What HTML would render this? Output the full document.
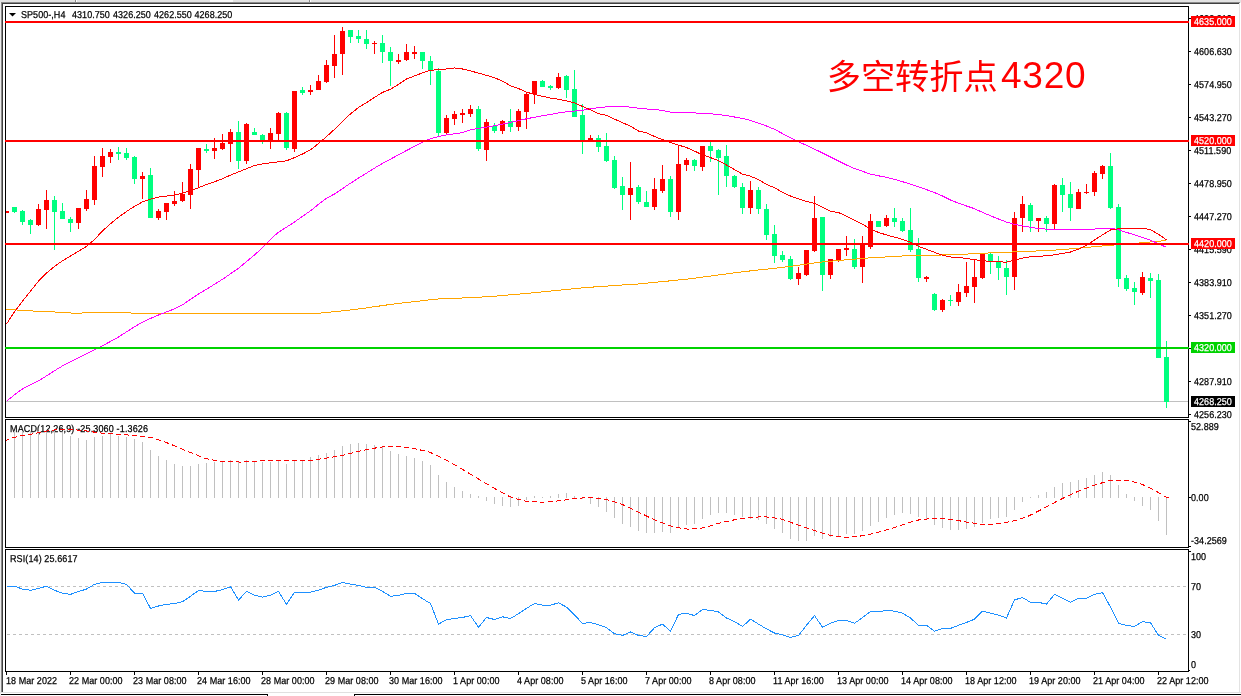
<!DOCTYPE html>
<html><head><meta charset="utf-8"><title>SP500 H4</title>
<style>html,body{margin:0;padding:0;background:#fff;}body{width:1241px;height:696px;overflow:hidden;}svg{display:block;}
text{font-family:"Liberation Sans",Arial,sans-serif;}</style></head>
<body>
<svg width="1241" height="696" viewBox="0 0 1241 696" shape-rendering="crispEdges">
<style>.t{font-family:"Liberation Sans",Arial,sans-serif;will-change:transform;letter-spacing:0.05px;text-rendering:geometricPrecision;}</style>
<rect x="0" y="0" width="1241" height="696" fill="#ffffff"/>
<rect x="0" y="0" width="1241" height="2" fill="#e3e3e3"/>
<rect x="0" y="2" width="1240" height="1" fill="#8a8a8a"/>
<rect x="1240" y="2" width="1" height="1" fill="#ececec"/>
<rect x="2" y="3" width="1237" height="1" fill="#404040"/>
<rect x="75" y="0" width="1" height="2" fill="#8a8a8a"/>
<rect x="76" y="0" width="1" height="2" fill="#ffffff"/>
<rect x="309" y="0" width="1" height="2" fill="#8a8a8a"/>
<rect x="310" y="0" width="1" height="2" fill="#ffffff"/>
<rect x="210" y="0" width="23" height="2" fill="#fafafa"/>
<rect x="0" y="2" width="1" height="694" fill="#ececec"/>
<rect x="1" y="3" width="1" height="689" fill="#8a8a8a"/>
<rect x="2" y="3" width="1" height="689" fill="#404040"/>
<rect x="1239" y="3" width="1" height="689" fill="#e3e3e3"/>
<rect x="0" y="692" width="1241" height="1" fill="#e0e0e0"/>
<rect x="1" y="694" width="267" height="1" fill="#000"/>
<rect x="354" y="694" width="887" height="1" fill="#000"/>
<rect x="267" y="694" width="1" height="2" fill="#000"/>
<rect x="354" y="694" width="1" height="2" fill="#000"/>
<defs><clipPath id="cm"><rect x="6" y="7" width="1182" height="410"/></clipPath><clipPath id="cd"><rect x="6" y="420" width="1182" height="127"/></clipPath><clipPath id="cr"><rect x="6" y="550" width="1182" height="121"/></clipPath></defs>
<g clip-path="url(#cm)">
<rect x="6" y="401" width="1182" height="1" fill="#c0c0c0"/>
<rect x="6" y="211" width="1" height="2" fill="#ff0000"/>
<rect x="4" y="211" width="5" height="2" fill="#ff0000"/>
<rect x="14" y="207" width="1" height="6" fill="#00ff7f"/>
<rect x="12" y="207" width="5" height="5" fill="#00ff7f"/>
<rect x="22" y="210" width="1" height="15" fill="#00ff7f"/>
<rect x="20" y="211" width="5" height="11" fill="#00ff7f"/>
<rect x="30" y="219" width="1" height="15" fill="#00ff7f"/>
<rect x="28" y="220" width="5" height="5" fill="#00ff7f"/>
<rect x="38" y="204" width="1" height="22" fill="#ff0000"/>
<rect x="36" y="209" width="5" height="16" fill="#ff0000"/>
<rect x="46" y="190" width="1" height="39" fill="#ff0000"/>
<rect x="44" y="200" width="5" height="10" fill="#ff0000"/>
<rect x="54" y="196" width="1" height="54" fill="#00ff7f"/>
<rect x="52" y="200" width="5" height="12" fill="#00ff7f"/>
<rect x="62" y="203" width="1" height="16" fill="#00ff7f"/>
<rect x="60" y="211" width="5" height="8" fill="#00ff7f"/>
<rect x="70" y="217" width="1" height="15" fill="#00ff7f"/>
<rect x="68" y="219" width="5" height="4" fill="#00ff7f"/>
<rect x="78" y="208" width="1" height="21" fill="#ff0000"/>
<rect x="76" y="208" width="5" height="15" fill="#ff0000"/>
<rect x="86" y="190" width="1" height="21" fill="#ff0000"/>
<rect x="84" y="199" width="5" height="10" fill="#ff0000"/>
<rect x="94" y="156" width="1" height="49" fill="#ff0000"/>
<rect x="92" y="166" width="5" height="34" fill="#ff0000"/>
<rect x="102" y="148" width="1" height="29" fill="#ff0000"/>
<rect x="100" y="156" width="5" height="11" fill="#ff0000"/>
<rect x="110" y="149" width="1" height="14" fill="#ff0000"/>
<rect x="108" y="152" width="5" height="5" fill="#ff0000"/>
<rect x="118" y="147" width="1" height="13" fill="#00ff7f"/>
<rect x="116" y="152" width="5" height="2" fill="#00ff7f"/>
<rect x="126" y="148" width="1" height="12" fill="#00ff7f"/>
<rect x="124" y="153" width="5" height="5" fill="#00ff7f"/>
<rect x="134" y="156" width="1" height="28" fill="#00ff7f"/>
<rect x="132" y="157" width="5" height="22" fill="#00ff7f"/>
<rect x="142" y="172" width="1" height="27" fill="#ff0000"/>
<rect x="140" y="176" width="5" height="3" fill="#ff0000"/>
<rect x="150" y="168" width="1" height="50" fill="#00ff7f"/>
<rect x="148" y="175" width="5" height="43" fill="#00ff7f"/>
<rect x="158" y="209" width="1" height="11" fill="#ff0000"/>
<rect x="156" y="211" width="5" height="7" fill="#ff0000"/>
<rect x="166" y="203" width="1" height="17" fill="#ff0000"/>
<rect x="164" y="203" width="5" height="9" fill="#ff0000"/>
<rect x="174" y="191" width="1" height="15" fill="#ff0000"/>
<rect x="172" y="201" width="5" height="3" fill="#ff0000"/>
<rect x="182" y="182" width="1" height="20" fill="#ff0000"/>
<rect x="180" y="194" width="5" height="7" fill="#ff0000"/>
<rect x="190" y="164" width="1" height="45" fill="#ff0000"/>
<rect x="188" y="169" width="5" height="26" fill="#ff0000"/>
<rect x="198" y="148" width="1" height="40" fill="#ff0000"/>
<rect x="196" y="148" width="5" height="22" fill="#ff0000"/>
<rect x="206" y="144" width="1" height="9" fill="#00ff7f"/>
<rect x="204" y="149" width="5" height="2" fill="#00ff7f"/>
<rect x="214" y="138" width="1" height="21" fill="#ff0000"/>
<rect x="212" y="148" width="5" height="3" fill="#ff0000"/>
<rect x="222" y="134" width="1" height="16" fill="#ff0000"/>
<rect x="220" y="143" width="5" height="6" fill="#ff0000"/>
<rect x="230" y="129" width="1" height="33" fill="#ff0000"/>
<rect x="228" y="132" width="5" height="12" fill="#ff0000"/>
<rect x="238" y="121" width="1" height="48" fill="#00ff7f"/>
<rect x="236" y="132" width="5" height="29" fill="#00ff7f"/>
<rect x="246" y="123" width="1" height="41" fill="#ff0000"/>
<rect x="244" y="124" width="5" height="37" fill="#ff0000"/>
<rect x="254" y="128" width="1" height="7" fill="#00ff7f"/>
<rect x="252" y="132" width="5" height="3" fill="#00ff7f"/>
<rect x="262" y="134" width="1" height="10" fill="#00ff7f"/>
<rect x="260" y="135" width="5" height="6" fill="#00ff7f"/>
<rect x="270" y="128" width="1" height="21" fill="#ff0000"/>
<rect x="268" y="133" width="5" height="9" fill="#ff0000"/>
<rect x="278" y="112" width="1" height="29" fill="#ff0000"/>
<rect x="276" y="113" width="5" height="21" fill="#ff0000"/>
<rect x="286" y="112" width="1" height="38" fill="#00ff7f"/>
<rect x="284" y="113" width="5" height="35" fill="#00ff7f"/>
<rect x="294" y="91" width="1" height="61" fill="#ff0000"/>
<rect x="292" y="91" width="5" height="58" fill="#ff0000"/>
<rect x="302" y="87" width="1" height="8" fill="#00ff7f"/>
<rect x="300" y="90" width="5" height="3" fill="#00ff7f"/>
<rect x="310" y="85" width="1" height="10" fill="#ff0000"/>
<rect x="308" y="90" width="5" height="2" fill="#ff0000"/>
<rect x="318" y="75" width="1" height="15" fill="#ff0000"/>
<rect x="316" y="81" width="5" height="9" fill="#ff0000"/>
<rect x="326" y="60" width="1" height="23" fill="#ff0000"/>
<rect x="324" y="65" width="5" height="17" fill="#ff0000"/>
<rect x="334" y="35" width="1" height="43" fill="#ff0000"/>
<rect x="332" y="54" width="5" height="12" fill="#ff0000"/>
<rect x="342" y="27" width="1" height="48" fill="#ff0000"/>
<rect x="340" y="31" width="5" height="23" fill="#ff0000"/>
<rect x="350" y="30" width="1" height="13" fill="#00ff7f"/>
<rect x="348" y="30" width="5" height="7" fill="#00ff7f"/>
<rect x="358" y="30" width="1" height="13" fill="#00ff7f"/>
<rect x="356" y="36" width="5" height="3" fill="#00ff7f"/>
<rect x="366" y="30" width="1" height="19" fill="#00ff7f"/>
<rect x="364" y="39" width="5" height="5" fill="#00ff7f"/>
<rect x="374" y="41" width="1" height="13" fill="#ff0000"/>
<rect x="372" y="43" width="5" height="1" fill="#ff0000"/>
<rect x="382" y="35" width="1" height="28" fill="#00ff7f"/>
<rect x="380" y="43" width="5" height="9" fill="#00ff7f"/>
<rect x="390" y="47" width="1" height="39" fill="#00ff7f"/>
<rect x="388" y="52" width="5" height="9" fill="#00ff7f"/>
<rect x="398" y="54" width="1" height="10" fill="#ff0000"/>
<rect x="396" y="60" width="5" height="2" fill="#ff0000"/>
<rect x="406" y="44" width="1" height="17" fill="#ff0000"/>
<rect x="404" y="52" width="5" height="8" fill="#ff0000"/>
<rect x="414" y="46" width="1" height="13" fill="#ff0000"/>
<rect x="412" y="52" width="5" height="2" fill="#ff0000"/>
<rect x="422" y="52" width="1" height="17" fill="#00ff7f"/>
<rect x="420" y="52" width="5" height="9" fill="#00ff7f"/>
<rect x="430" y="56" width="1" height="29" fill="#00ff7f"/>
<rect x="428" y="61" width="5" height="9" fill="#00ff7f"/>
<rect x="438" y="68" width="1" height="68" fill="#00ff7f"/>
<rect x="436" y="71" width="5" height="62" fill="#00ff7f"/>
<rect x="446" y="115" width="1" height="19" fill="#ff0000"/>
<rect x="444" y="118" width="5" height="15" fill="#ff0000"/>
<rect x="454" y="111" width="1" height="14" fill="#ff0000"/>
<rect x="452" y="114" width="5" height="5" fill="#ff0000"/>
<rect x="462" y="109" width="1" height="14" fill="#ff0000"/>
<rect x="460" y="113" width="5" height="2" fill="#ff0000"/>
<rect x="470" y="105" width="1" height="12" fill="#ff0000"/>
<rect x="468" y="109" width="5" height="5" fill="#ff0000"/>
<rect x="478" y="106" width="1" height="45" fill="#00ff7f"/>
<rect x="476" y="109" width="5" height="40" fill="#00ff7f"/>
<rect x="486" y="119" width="1" height="42" fill="#ff0000"/>
<rect x="484" y="122" width="5" height="28" fill="#ff0000"/>
<rect x="494" y="123" width="1" height="10" fill="#00ff7f"/>
<rect x="492" y="126" width="5" height="5" fill="#00ff7f"/>
<rect x="502" y="120" width="1" height="14" fill="#ff0000"/>
<rect x="500" y="121" width="5" height="10" fill="#ff0000"/>
<rect x="510" y="109" width="1" height="23" fill="#00ff7f"/>
<rect x="508" y="121" width="5" height="6" fill="#00ff7f"/>
<rect x="518" y="109" width="1" height="22" fill="#ff0000"/>
<rect x="516" y="111" width="5" height="16" fill="#ff0000"/>
<rect x="526" y="93" width="1" height="36" fill="#ff0000"/>
<rect x="524" y="94" width="5" height="18" fill="#ff0000"/>
<rect x="534" y="81" width="1" height="23" fill="#ff0000"/>
<rect x="532" y="81" width="5" height="13" fill="#ff0000"/>
<rect x="542" y="80" width="1" height="7" fill="#00ff7f"/>
<rect x="540" y="81" width="5" height="6" fill="#00ff7f"/>
<rect x="550" y="85" width="1" height="5" fill="#00ff7f"/>
<rect x="548" y="86" width="5" height="2" fill="#00ff7f"/>
<rect x="558" y="73" width="1" height="16" fill="#ff0000"/>
<rect x="556" y="77" width="5" height="11" fill="#ff0000"/>
<rect x="566" y="75" width="1" height="23" fill="#00ff7f"/>
<rect x="564" y="76" width="5" height="14" fill="#00ff7f"/>
<rect x="574" y="70" width="1" height="47" fill="#00ff7f"/>
<rect x="572" y="89" width="5" height="28" fill="#00ff7f"/>
<rect x="582" y="104" width="1" height="50" fill="#00ff7f"/>
<rect x="580" y="115" width="5" height="25" fill="#00ff7f"/>
<rect x="590" y="135" width="1" height="5" fill="#ff0000"/>
<rect x="588" y="138" width="5" height="2" fill="#ff0000"/>
<rect x="598" y="135" width="1" height="17" fill="#00ff7f"/>
<rect x="596" y="138" width="5" height="9" fill="#00ff7f"/>
<rect x="606" y="133" width="1" height="29" fill="#00ff7f"/>
<rect x="604" y="146" width="5" height="15" fill="#00ff7f"/>
<rect x="614" y="156" width="1" height="33" fill="#00ff7f"/>
<rect x="612" y="160" width="5" height="28" fill="#00ff7f"/>
<rect x="622" y="177" width="1" height="33" fill="#00ff7f"/>
<rect x="620" y="186" width="5" height="9" fill="#00ff7f"/>
<rect x="630" y="162" width="1" height="58" fill="#ff0000"/>
<rect x="628" y="188" width="5" height="7" fill="#ff0000"/>
<rect x="638" y="185" width="1" height="19" fill="#00ff7f"/>
<rect x="636" y="187" width="5" height="15" fill="#00ff7f"/>
<rect x="646" y="191" width="1" height="16" fill="#00ff7f"/>
<rect x="644" y="202" width="5" height="5" fill="#00ff7f"/>
<rect x="654" y="178" width="1" height="32" fill="#ff0000"/>
<rect x="652" y="189" width="5" height="18" fill="#ff0000"/>
<rect x="662" y="165" width="1" height="28" fill="#ff0000"/>
<rect x="660" y="179" width="5" height="12" fill="#ff0000"/>
<rect x="670" y="176" width="1" height="41" fill="#00ff7f"/>
<rect x="668" y="179" width="5" height="33" fill="#00ff7f"/>
<rect x="678" y="146" width="1" height="74" fill="#ff0000"/>
<rect x="676" y="164" width="5" height="48" fill="#ff0000"/>
<rect x="686" y="158" width="1" height="13" fill="#ff0000"/>
<rect x="684" y="160" width="5" height="5" fill="#ff0000"/>
<rect x="694" y="159" width="1" height="12" fill="#00ff7f"/>
<rect x="692" y="160" width="5" height="6" fill="#00ff7f"/>
<rect x="702" y="146" width="1" height="25" fill="#ff0000"/>
<rect x="700" y="146" width="5" height="21" fill="#ff0000"/>
<rect x="710" y="141" width="1" height="21" fill="#00ff7f"/>
<rect x="708" y="146" width="5" height="5" fill="#00ff7f"/>
<rect x="718" y="149" width="1" height="46" fill="#00ff7f"/>
<rect x="716" y="150" width="5" height="8" fill="#00ff7f"/>
<rect x="726" y="145" width="1" height="42" fill="#00ff7f"/>
<rect x="724" y="156" width="5" height="20" fill="#00ff7f"/>
<rect x="734" y="175" width="1" height="13" fill="#00ff7f"/>
<rect x="732" y="176" width="5" height="11" fill="#00ff7f"/>
<rect x="742" y="183" width="1" height="31" fill="#00ff7f"/>
<rect x="740" y="187" width="5" height="21" fill="#00ff7f"/>
<rect x="750" y="181" width="1" height="33" fill="#ff0000"/>
<rect x="748" y="190" width="5" height="18" fill="#ff0000"/>
<rect x="758" y="187" width="1" height="27" fill="#00ff7f"/>
<rect x="756" y="190" width="5" height="19" fill="#00ff7f"/>
<rect x="766" y="204" width="1" height="36" fill="#00ff7f"/>
<rect x="764" y="209" width="5" height="26" fill="#00ff7f"/>
<rect x="774" y="225" width="1" height="38" fill="#00ff7f"/>
<rect x="772" y="234" width="5" height="22" fill="#00ff7f"/>
<rect x="782" y="251" width="1" height="11" fill="#00ff7f"/>
<rect x="780" y="255" width="5" height="5" fill="#00ff7f"/>
<rect x="790" y="256" width="1" height="24" fill="#00ff7f"/>
<rect x="788" y="259" width="5" height="20" fill="#00ff7f"/>
<rect x="798" y="267" width="1" height="18" fill="#ff0000"/>
<rect x="796" y="273" width="5" height="6" fill="#ff0000"/>
<rect x="806" y="250" width="1" height="26" fill="#ff0000"/>
<rect x="804" y="250" width="5" height="25" fill="#ff0000"/>
<rect x="814" y="196" width="1" height="56" fill="#ff0000"/>
<rect x="812" y="218" width="5" height="33" fill="#ff0000"/>
<rect x="822" y="217" width="1" height="74" fill="#00ff7f"/>
<rect x="820" y="217" width="5" height="58" fill="#00ff7f"/>
<rect x="830" y="259" width="1" height="20" fill="#ff0000"/>
<rect x="828" y="259" width="5" height="16" fill="#ff0000"/>
<rect x="838" y="249" width="1" height="13" fill="#ff0000"/>
<rect x="836" y="249" width="5" height="11" fill="#ff0000"/>
<rect x="846" y="236" width="1" height="20" fill="#ff0000"/>
<rect x="844" y="248" width="5" height="2" fill="#ff0000"/>
<rect x="854" y="239" width="1" height="30" fill="#00ff7f"/>
<rect x="852" y="249" width="5" height="18" fill="#00ff7f"/>
<rect x="862" y="236" width="1" height="47" fill="#ff0000"/>
<rect x="860" y="244" width="5" height="23" fill="#ff0000"/>
<rect x="870" y="214" width="1" height="35" fill="#ff0000"/>
<rect x="868" y="221" width="5" height="26" fill="#ff0000"/>
<rect x="878" y="221" width="1" height="6" fill="#00ff7f"/>
<rect x="876" y="221" width="5" height="6" fill="#00ff7f"/>
<rect x="886" y="215" width="1" height="12" fill="#ff0000"/>
<rect x="884" y="218" width="5" height="8" fill="#ff0000"/>
<rect x="894" y="208" width="1" height="19" fill="#00ff7f"/>
<rect x="892" y="218" width="5" height="4" fill="#00ff7f"/>
<rect x="902" y="218" width="1" height="14" fill="#00ff7f"/>
<rect x="900" y="221" width="5" height="10" fill="#00ff7f"/>
<rect x="910" y="208" width="1" height="44" fill="#00ff7f"/>
<rect x="908" y="230" width="5" height="20" fill="#00ff7f"/>
<rect x="918" y="238" width="1" height="44" fill="#00ff7f"/>
<rect x="916" y="249" width="5" height="29" fill="#00ff7f"/>
<rect x="926" y="276" width="1" height="6" fill="#ff0000"/>
<rect x="924" y="277" width="5" height="2" fill="#ff0000"/>
<rect x="934" y="293" width="1" height="18" fill="#00ff7f"/>
<rect x="932" y="294" width="5" height="16" fill="#00ff7f"/>
<rect x="942" y="299" width="1" height="13" fill="#ff0000"/>
<rect x="940" y="300" width="5" height="10" fill="#ff0000"/>
<rect x="950" y="295" width="1" height="11" fill="#00ff7f"/>
<rect x="948" y="300" width="5" height="1" fill="#00ff7f"/>
<rect x="958" y="284" width="1" height="22" fill="#ff0000"/>
<rect x="956" y="292" width="5" height="10" fill="#ff0000"/>
<rect x="966" y="262" width="1" height="35" fill="#ff0000"/>
<rect x="964" y="286" width="5" height="7" fill="#ff0000"/>
<rect x="974" y="260" width="1" height="43" fill="#ff0000"/>
<rect x="972" y="277" width="5" height="10" fill="#ff0000"/>
<rect x="982" y="254" width="1" height="25" fill="#ff0000"/>
<rect x="980" y="254" width="5" height="24" fill="#ff0000"/>
<rect x="990" y="253" width="1" height="21" fill="#00ff7f"/>
<rect x="988" y="254" width="5" height="8" fill="#00ff7f"/>
<rect x="998" y="256" width="1" height="24" fill="#00ff7f"/>
<rect x="996" y="262" width="5" height="6" fill="#00ff7f"/>
<rect x="1006" y="260" width="1" height="35" fill="#00ff7f"/>
<rect x="1004" y="268" width="5" height="9" fill="#00ff7f"/>
<rect x="1014" y="212" width="1" height="78" fill="#ff0000"/>
<rect x="1012" y="218" width="5" height="59" fill="#ff0000"/>
<rect x="1022" y="196" width="1" height="36" fill="#ff0000"/>
<rect x="1020" y="204" width="5" height="14" fill="#ff0000"/>
<rect x="1030" y="203" width="1" height="29" fill="#00ff7f"/>
<rect x="1028" y="205" width="5" height="16" fill="#00ff7f"/>
<rect x="1038" y="218" width="1" height="14" fill="#ff0000"/>
<rect x="1036" y="218" width="5" height="3" fill="#ff0000"/>
<rect x="1046" y="216" width="1" height="16" fill="#00ff7f"/>
<rect x="1044" y="218" width="5" height="6" fill="#00ff7f"/>
<rect x="1054" y="184" width="1" height="45" fill="#ff0000"/>
<rect x="1052" y="185" width="5" height="39" fill="#ff0000"/>
<rect x="1062" y="178" width="1" height="34" fill="#00ff7f"/>
<rect x="1060" y="185" width="5" height="10" fill="#00ff7f"/>
<rect x="1070" y="182" width="1" height="39" fill="#00ff7f"/>
<rect x="1068" y="194" width="5" height="14" fill="#00ff7f"/>
<rect x="1078" y="189" width="1" height="20" fill="#ff0000"/>
<rect x="1076" y="192" width="5" height="17" fill="#ff0000"/>
<rect x="1086" y="184" width="1" height="10" fill="#ff0000"/>
<rect x="1084" y="192" width="5" height="1" fill="#ff0000"/>
<rect x="1094" y="171" width="1" height="25" fill="#ff0000"/>
<rect x="1092" y="173" width="5" height="19" fill="#ff0000"/>
<rect x="1102" y="165" width="1" height="14" fill="#ff0000"/>
<rect x="1100" y="166" width="5" height="8" fill="#ff0000"/>
<rect x="1110" y="153" width="1" height="56" fill="#00ff7f"/>
<rect x="1108" y="166" width="5" height="42" fill="#00ff7f"/>
<rect x="1118" y="204" width="1" height="83" fill="#00ff7f"/>
<rect x="1116" y="207" width="5" height="72" fill="#00ff7f"/>
<rect x="1126" y="275" width="1" height="16" fill="#00ff7f"/>
<rect x="1124" y="278" width="5" height="11" fill="#00ff7f"/>
<rect x="1134" y="282" width="1" height="23" fill="#00ff7f"/>
<rect x="1132" y="288" width="5" height="4" fill="#00ff7f"/>
<rect x="1142" y="272" width="1" height="23" fill="#ff0000"/>
<rect x="1140" y="277" width="5" height="16" fill="#ff0000"/>
<rect x="1150" y="273" width="1" height="25" fill="#00ff7f"/>
<rect x="1148" y="278" width="5" height="3" fill="#00ff7f"/>
<rect x="1158" y="274" width="1" height="84" fill="#00ff7f"/>
<rect x="1156" y="280" width="5" height="78" fill="#00ff7f"/>
<rect x="1166" y="341" width="1" height="67" fill="#00ff7f"/>
<rect x="1164" y="357" width="5" height="45" fill="#00ff7f"/>
<polyline points="6.5,309.2 14.5,309.8 22.5,310.4 30.5,310.9 38.5,311.2 46.5,311.6 54.5,312.0 62.5,312.5 70.5,313.0 78.5,313.2 86.5,312.8 94.5,312.4 102.5,312.4 110.5,312.6 118.5,312.8 126.5,312.9 134.5,313.1 142.5,313.2 150.5,313.3 158.5,313.3 166.5,313.2 174.5,313.2 182.5,313.2 190.5,313.2 198.5,313.3 206.5,313.3 214.5,313.4 222.5,313.5 230.5,313.5 238.5,313.6 246.5,313.6 254.5,313.7 262.5,313.8 270.5,313.8 278.5,313.8 286.5,313.8 294.5,313.8 302.5,313.8 310.5,313.8 318.5,313.3 326.5,312.5 334.5,311.7 342.5,310.8 350.5,310.0 358.5,309.0 366.5,307.9 374.5,306.7 382.5,305.6 390.5,304.4 398.5,303.4 406.5,302.5 414.5,301.6 422.5,300.7 430.5,299.7 438.5,299.0 446.5,298.7 454.5,298.3 462.5,298.0 470.5,297.6 478.5,297.2 486.5,296.8 494.5,296.2 502.5,295.5 510.5,294.8 518.5,294.1 526.5,293.4 534.5,292.7 542.5,291.9 550.5,291.1 558.5,290.3 566.5,289.5 574.5,288.7 582.5,287.9 590.5,287.2 598.5,286.7 606.5,286.1 614.5,285.6 622.5,285.0 630.5,284.5 638.5,284.0 646.5,283.2 654.5,282.4 662.5,281.6 670.5,280.8 678.5,280.0 686.5,279.2 694.5,278.2 702.5,277.1 710.5,276.1 718.5,275.0 726.5,273.9 734.5,272.8 742.5,271.8 750.5,270.9 758.5,270.0 766.5,269.2 774.5,268.3 782.5,267.4 790.5,266.3 798.5,265.2 806.5,264.1 814.5,263.0 822.5,262.0 830.5,261.3 838.5,260.5 846.5,259.8 854.5,259.1 862.5,258.4 870.5,257.8 878.5,257.4 886.5,256.9 894.5,256.4 902.5,256.0 910.5,255.5 918.5,255.3 926.5,255.2 934.5,255.1 942.5,255.0 950.5,254.8 958.5,254.5 966.5,254.1 974.5,253.7 982.5,253.3 990.5,252.9 998.5,252.5 1006.5,252.2 1014.5,251.9 1022.5,251.5 1030.5,251.2 1038.5,250.9 1046.5,250.6 1054.5,250.1 1062.5,249.6 1070.5,248.9 1078.5,248.2 1086.5,247.4 1094.5,246.7 1102.5,246.0 1110.5,245.3 1118.5,244.7 1126.5,244.0 1134.5,243.4 1142.5,242.7 1150.5,242.0 1158.5,241.3 1166.5,240.5" fill="none" stroke="#ffa500" stroke-width="1" shape-rendering="crispEdges"/>
<polyline points="6.5,401.3 14.5,394.7 22.5,388.9 30.5,384.8 38.5,380.8 46.5,375.9 54.5,370.7 62.5,365.9 70.5,361.9 78.5,357.9 86.5,353.9 94.5,349.9 102.5,345.8 110.5,341.4 118.5,337.0 126.5,331.9 134.5,326.7 142.5,322.1 150.5,318.5 158.5,315.0 166.5,311.9 174.5,308.9 182.5,304.8 190.5,299.4 198.5,294.0 206.5,289.2 214.5,284.3 222.5,279.3 230.5,273.8 238.5,268.2 246.5,261.7 254.5,254.9 262.5,247.8 270.5,239.2 278.5,232.2 286.5,227.2 294.5,222.0 302.5,216.4 310.5,210.8 318.5,204.3 326.5,198.3 334.5,194.0 342.5,188.6 350.5,183.2 358.5,178.1 366.5,173.1 374.5,168.1 382.5,163.4 390.5,159.1 398.5,154.8 406.5,150.5 414.5,146.4 422.5,142.4 430.5,138.6 438.5,136.6 446.5,134.9 454.5,133.8 462.5,132.6 470.5,129.7 478.5,128.4 486.5,127.1 494.5,125.7 502.5,124.2 510.5,122.4 518.5,120.6 526.5,118.8 534.5,117.2 542.5,115.8 550.5,114.4 558.5,112.9 566.5,111.8 574.5,111.1 582.5,110.2 590.5,108.8 598.5,107.6 606.5,106.9 614.5,106.5 622.5,106.5 630.5,107.1 638.5,108.2 646.5,109.0 654.5,109.3 662.5,110.5 670.5,112.2 678.5,112.4 686.5,112.6 694.5,112.9 702.5,113.4 710.5,113.8 718.5,114.5 726.5,115.6 734.5,117.0 742.5,118.5 750.5,120.4 758.5,123.2 766.5,126.0 774.5,129.3 782.5,133.6 790.5,137.9 798.5,141.8 806.5,145.3 814.5,149.1 822.5,153.0 830.5,157.0 838.5,161.0 846.5,165.0 854.5,168.5 862.5,171.3 870.5,174.1 878.5,175.8 886.5,177.4 894.5,179.3 902.5,181.7 910.5,184.1 918.5,186.8 926.5,189.6 934.5,192.6 942.5,196.0 950.5,200.0 958.5,203.2 966.5,206.0 974.5,208.7 982.5,212.3 990.5,215.8 998.5,219.0 1006.5,222.1 1014.5,224.3 1022.5,225.9 1030.5,227.2 1038.5,228.6 1046.5,229.1 1054.5,229.1 1062.5,229.1 1070.5,229.1 1078.5,229.1 1086.5,229.1 1094.5,229.1 1102.5,228.2 1110.5,228.2 1118.5,229.7 1126.5,232.4 1134.5,234.8 1142.5,237.5 1150.5,240.3 1158.5,243.7 1166.5,247.3" fill="none" stroke="#ff00ff" stroke-width="1" shape-rendering="crispEdges"/>
<polyline points="6.5,324.0 14.5,311.7 22.5,301.1 30.5,291.2 38.5,281.2 46.5,273.1 54.5,266.4 62.5,260.8 70.5,256.1 78.5,251.3 86.5,246.4 94.5,239.6 102.5,230.9 110.5,223.8 118.5,217.2 126.5,211.5 134.5,206.3 142.5,201.9 150.5,199.1 158.5,197.1 166.5,196.1 174.5,195.1 182.5,193.1 190.5,190.8 198.5,187.8 206.5,184.4 214.5,181.8 222.5,178.7 230.5,175.1 238.5,171.9 246.5,168.7 254.5,165.5 262.5,164.0 270.5,162.8 278.5,161.8 286.5,160.8 294.5,157.6 302.5,154.0 310.5,149.9 318.5,143.5 326.5,136.6 334.5,129.3 342.5,121.3 350.5,113.9 358.5,107.5 366.5,102.6 374.5,97.4 382.5,92.4 390.5,89.2 398.5,84.4 406.5,79.0 414.5,75.9 422.5,72.9 430.5,70.2 438.5,69.8 446.5,69.0 454.5,68.0 462.5,69.0 470.5,70.8 478.5,73.2 486.5,75.3 494.5,77.7 502.5,81.1 510.5,85.7 518.5,88.6 526.5,92.1 534.5,94.5 542.5,96.3 550.5,98.1 558.5,99.3 566.5,100.8 574.5,102.9 582.5,106.5 590.5,109.8 598.5,113.6 606.5,115.3 614.5,119.1 622.5,122.6 630.5,126.3 638.5,131.0 646.5,132.8 654.5,136.5 662.5,139.6 670.5,142.4 678.5,145.1 686.5,147.5 694.5,151.1 702.5,154.9 710.5,157.6 718.5,160.7 726.5,165.0 734.5,169.6 742.5,174.2 750.5,176.2 758.5,179.6 766.5,184.4 774.5,187.8 782.5,192.3 790.5,196.0 798.5,198.9 806.5,201.4 814.5,203.4 822.5,207.4 830.5,211.4 838.5,212.5 846.5,216.1 854.5,220.3 862.5,224.3 870.5,228.9 878.5,232.5 886.5,234.9 894.5,237.2 902.5,239.3 910.5,242.3 918.5,246.3 926.5,249.3 934.5,252.3 942.5,255.3 950.5,257.0 958.5,257.6 966.5,258.4 974.5,259.7 982.5,260.7 990.5,261.4 998.5,261.8 1006.5,262.2 1014.5,260.0 1022.5,258.1 1030.5,256.8 1038.5,256.3 1046.5,255.8 1054.5,254.8 1062.5,253.4 1070.5,252.0 1078.5,249.1 1086.5,245.1 1094.5,240.1 1102.5,234.8 1110.5,230.0 1118.5,228.7 1126.5,228.6 1134.5,228.5 1142.5,228.4 1150.5,229.5 1158.5,234.4 1166.5,239.8" fill="none" stroke="#ff0000" stroke-width="1" shape-rendering="crispEdges"/>
</g>
<polygon points="9,13 16,13 12.5,16.5" fill="#000" shape-rendering="auto"/>
<text transform="translate(21,18) scale(0.9,1)" fill="#000" stroke="#000" stroke-width="0.25" font-size="10" text-anchor="start" class="t" >SP500-,H4</text>
<text transform="translate(72,18) scale(0.9,1)" fill="#000" stroke="#000" stroke-width="0.25" font-size="10" text-anchor="start" class="t" >4310.750</text>
<text transform="translate(113,18) scale(0.9,1)" fill="#000" stroke="#000" stroke-width="0.25" font-size="10" text-anchor="start" class="t" >4326.250</text>
<text transform="translate(154,18) scale(0.9,1)" fill="#000" stroke="#000" stroke-width="0.25" font-size="10" text-anchor="start" class="t" >4262.550</text>
<text transform="translate(194.5,18) scale(0.9,1)" fill="#000" stroke="#000" stroke-width="0.25" font-size="10" text-anchor="start" class="t" >4268.250</text>
<rect x="5" y="6" width="1184" height="1" fill="#000"/>
<rect x="5" y="417" width="1184" height="1" fill="#000"/>
<rect x="5" y="6" width="1" height="412" fill="#000"/>
<rect x="1188" y="6" width="1" height="412" fill="#000"/>
<rect x="5" y="419" width="1184" height="1" fill="#000"/>
<rect x="5" y="547" width="1184" height="1" fill="#000"/>
<rect x="5" y="419" width="1" height="129" fill="#000"/>
<rect x="1188" y="419" width="1" height="129" fill="#000"/>
<rect x="5" y="549" width="1184" height="1" fill="#000"/>
<rect x="5" y="671" width="1184" height="1" fill="#000"/>
<rect x="5" y="549" width="1" height="123" fill="#000"/>
<rect x="1188" y="549" width="1" height="123" fill="#000"/>
<rect x="5" y="21" width="1184" height="2" fill="#ff0000"/>
<rect x="5" y="140" width="1184" height="2" fill="#ff0000"/>
<rect x="5" y="243" width="1184" height="2" fill="#ff0000"/>
<rect x="5" y="347" width="1184" height="2" fill="#00d200"/>
<rect x="1189" y="51" width="2" height="1" fill="#000"/>
<text transform="translate(1194,55) scale(0.9,1)" fill="#000" stroke="#000" stroke-width="0.25" font-size="10" text-anchor="start" class="t" >4606.630</text>
<rect x="1189" y="84" width="2" height="1" fill="#000"/>
<text transform="translate(1194,88) scale(0.9,1)" fill="#000" stroke="#000" stroke-width="0.25" font-size="10" text-anchor="start" class="t" >4574.950</text>
<rect x="1189" y="117" width="2" height="1" fill="#000"/>
<text transform="translate(1194,121) scale(0.9,1)" fill="#000" stroke="#000" stroke-width="0.25" font-size="10" text-anchor="start" class="t" >4543.270</text>
<rect x="1189" y="150" width="2" height="1" fill="#000"/>
<text transform="translate(1194,154) scale(0.9,1)" fill="#000" stroke="#000" stroke-width="0.25" font-size="10" text-anchor="start" class="t" >4511.590</text>
<rect x="1189" y="183" width="2" height="1" fill="#000"/>
<text transform="translate(1194,187) scale(0.9,1)" fill="#000" stroke="#000" stroke-width="0.25" font-size="10" text-anchor="start" class="t" >4478.950</text>
<rect x="1189" y="216" width="2" height="1" fill="#000"/>
<text transform="translate(1194,220) scale(0.9,1)" fill="#000" stroke="#000" stroke-width="0.25" font-size="10" text-anchor="start" class="t" >4447.270</text>
<rect x="1189" y="249" width="2" height="1" fill="#000"/>
<text transform="translate(1194,253) scale(0.9,1)" fill="#000" stroke="#000" stroke-width="0.25" font-size="10" text-anchor="start" class="t" >4415.590</text>
<rect x="1189" y="282" width="2" height="1" fill="#000"/>
<text transform="translate(1194,286) scale(0.9,1)" fill="#000" stroke="#000" stroke-width="0.25" font-size="10" text-anchor="start" class="t" >4383.910</text>
<rect x="1189" y="315" width="2" height="1" fill="#000"/>
<text transform="translate(1194,319) scale(0.9,1)" fill="#000" stroke="#000" stroke-width="0.25" font-size="10" text-anchor="start" class="t" >4351.270</text>
<rect x="1189" y="348" width="2" height="1" fill="#000"/>
<text transform="translate(1194,352) scale(0.9,1)" fill="#000" stroke="#000" stroke-width="0.25" font-size="10" text-anchor="start" class="t" >4319.590</text>
<rect x="1189" y="381" width="2" height="1" fill="#000"/>
<text transform="translate(1194,385) scale(0.9,1)" fill="#000" stroke="#000" stroke-width="0.25" font-size="10" text-anchor="start" class="t" >4287.910</text>
<rect x="1189" y="414" width="2" height="1" fill="#000"/>
<text transform="translate(1194,418) scale(0.9,1)" fill="#000" stroke="#000" stroke-width="0.25" font-size="10" text-anchor="start" class="t" >4256.230</text>
<rect x="1189" y="18" width="2" height="1" fill="#000"/>
<text transform="translate(1194,22) scale(0.9,1)" fill="#000" stroke="#000" stroke-width="0.25" font-size="10" text-anchor="start" class="t" >4638.310</text>
<rect x="1191" y="16" width="44" height="11" fill="#ff0000"/>
<text transform="translate(1194,25) scale(0.9,1)" fill="#fff" stroke="#fff" stroke-width="0.25" font-size="10" text-anchor="start" class="t" >4635.000</text>
<rect x="1191" y="135" width="44" height="11" fill="#ff0000"/>
<text transform="translate(1194,144) scale(0.9,1)" fill="#fff" stroke="#fff" stroke-width="0.25" font-size="10" text-anchor="start" class="t" >4520.000</text>
<rect x="1191" y="238" width="44" height="11" fill="#ff0000"/>
<text transform="translate(1194,247) scale(0.9,1)" fill="#fff" stroke="#fff" stroke-width="0.25" font-size="10" text-anchor="start" class="t" >4420.000</text>
<rect x="1191" y="342" width="44" height="11" fill="#00d200"/>
<text transform="translate(1194,351) scale(0.9,1)" fill="#fff" stroke="#fff" stroke-width="0.25" font-size="10" text-anchor="start" class="t" >4320.000</text>
<rect x="1191" y="396" width="44" height="11" fill="#000"/>
<text transform="translate(1194,405) scale(0.9,1)" fill="#fff" stroke="#fff" stroke-width="0.25" font-size="10" text-anchor="start" class="t" >4268.250</text>
<text transform="translate(10,432) scale(0.9,1)" fill="#000" stroke="#000" stroke-width="0.25" font-size="10" text-anchor="start" class="t" style="letter-spacing:0.17px">MACD(12,26,9) -25.3060 -1.3626</text>
<g clip-path="url(#cd)">
<rect x="14" y="431" width="1" height="67" fill="#c0c0c0"/>
<rect x="22" y="431" width="1" height="67" fill="#c0c0c0"/>
<rect x="30" y="431" width="1" height="67" fill="#c0c0c0"/>
<rect x="38" y="431" width="1" height="67" fill="#c0c0c0"/>
<rect x="46" y="431" width="1" height="67" fill="#c0c0c0"/>
<rect x="54" y="431" width="1" height="67" fill="#c0c0c0"/>
<rect x="62" y="432" width="1" height="66" fill="#c0c0c0"/>
<rect x="70" y="436" width="1" height="62" fill="#c0c0c0"/>
<rect x="78" y="438" width="1" height="60" fill="#c0c0c0"/>
<rect x="86" y="440" width="1" height="58" fill="#c0c0c0"/>
<rect x="94" y="437" width="1" height="61" fill="#c0c0c0"/>
<rect x="102" y="436" width="1" height="62" fill="#c0c0c0"/>
<rect x="110" y="434" width="1" height="64" fill="#c0c0c0"/>
<rect x="118" y="436" width="1" height="62" fill="#c0c0c0"/>
<rect x="126" y="437" width="1" height="61" fill="#c0c0c0"/>
<rect x="134" y="439" width="1" height="59" fill="#c0c0c0"/>
<rect x="142" y="442" width="1" height="56" fill="#c0c0c0"/>
<rect x="150" y="450" width="1" height="48" fill="#c0c0c0"/>
<rect x="158" y="456" width="1" height="42" fill="#c0c0c0"/>
<rect x="166" y="460" width="1" height="38" fill="#c0c0c0"/>
<rect x="174" y="464" width="1" height="34" fill="#c0c0c0"/>
<rect x="182" y="466" width="1" height="32" fill="#c0c0c0"/>
<rect x="190" y="466" width="1" height="32" fill="#c0c0c0"/>
<rect x="198" y="464" width="1" height="34" fill="#c0c0c0"/>
<rect x="206" y="463" width="1" height="35" fill="#c0c0c0"/>
<rect x="214" y="462" width="1" height="36" fill="#c0c0c0"/>
<rect x="222" y="462" width="1" height="36" fill="#c0c0c0"/>
<rect x="230" y="460" width="1" height="38" fill="#c0c0c0"/>
<rect x="238" y="462" width="1" height="36" fill="#c0c0c0"/>
<rect x="246" y="460" width="1" height="38" fill="#c0c0c0"/>
<rect x="254" y="461" width="1" height="37" fill="#c0c0c0"/>
<rect x="262" y="462" width="1" height="36" fill="#c0c0c0"/>
<rect x="270" y="462" width="1" height="36" fill="#c0c0c0"/>
<rect x="278" y="461" width="1" height="37" fill="#c0c0c0"/>
<rect x="286" y="464" width="1" height="34" fill="#c0c0c0"/>
<rect x="294" y="461" width="1" height="37" fill="#c0c0c0"/>
<rect x="302" y="460" width="1" height="38" fill="#c0c0c0"/>
<rect x="310" y="457" width="1" height="41" fill="#c0c0c0"/>
<rect x="318" y="455" width="1" height="43" fill="#c0c0c0"/>
<rect x="326" y="453" width="1" height="45" fill="#c0c0c0"/>
<rect x="334" y="450" width="1" height="48" fill="#c0c0c0"/>
<rect x="342" y="446" width="1" height="52" fill="#c0c0c0"/>
<rect x="350" y="444" width="1" height="54" fill="#c0c0c0"/>
<rect x="358" y="443" width="1" height="55" fill="#c0c0c0"/>
<rect x="366" y="444" width="1" height="54" fill="#c0c0c0"/>
<rect x="374" y="445" width="1" height="53" fill="#c0c0c0"/>
<rect x="382" y="447" width="1" height="51" fill="#c0c0c0"/>
<rect x="390" y="451" width="1" height="47" fill="#c0c0c0"/>
<rect x="398" y="454" width="1" height="44" fill="#c0c0c0"/>
<rect x="406" y="456" width="1" height="42" fill="#c0c0c0"/>
<rect x="414" y="458" width="1" height="40" fill="#c0c0c0"/>
<rect x="422" y="461" width="1" height="37" fill="#c0c0c0"/>
<rect x="430" y="465" width="1" height="33" fill="#c0c0c0"/>
<rect x="438" y="475" width="1" height="23" fill="#c0c0c0"/>
<rect x="446" y="482" width="1" height="16" fill="#c0c0c0"/>
<rect x="454" y="487" width="1" height="11" fill="#c0c0c0"/>
<rect x="462" y="491" width="1" height="7" fill="#c0c0c0"/>
<rect x="470" y="494" width="1" height="4" fill="#c0c0c0"/>
<rect x="478" y="496" width="1" height="2" fill="#c0c0c0"/>
<rect x="486" y="497" width="1" height="4" fill="#c0c0c0"/>
<rect x="494" y="497" width="1" height="7" fill="#c0c0c0"/>
<rect x="502" y="497" width="1" height="9" fill="#c0c0c0"/>
<rect x="510" y="497" width="1" height="10" fill="#c0c0c0"/>
<rect x="518" y="497" width="1" height="9" fill="#c0c0c0"/>
<rect x="526" y="497" width="1" height="3" fill="#c0c0c0"/>
<rect x="534" y="496" width="1" height="2" fill="#c0c0c0"/>
<rect x="542" y="497" width="1" height="1" fill="#c0c0c0"/>
<rect x="550" y="496" width="1" height="2" fill="#c0c0c0"/>
<rect x="558" y="494" width="1" height="4" fill="#c0c0c0"/>
<rect x="566" y="493" width="1" height="5" fill="#c0c0c0"/>
<rect x="574" y="496" width="1" height="2" fill="#c0c0c0"/>
<rect x="582" y="497" width="1" height="2" fill="#c0c0c0"/>
<rect x="590" y="497" width="1" height="7" fill="#c0c0c0"/>
<rect x="598" y="497" width="1" height="10" fill="#c0c0c0"/>
<rect x="606" y="497" width="1" height="15" fill="#c0c0c0"/>
<rect x="614" y="497" width="1" height="21" fill="#c0c0c0"/>
<rect x="622" y="497" width="1" height="27" fill="#c0c0c0"/>
<rect x="630" y="497" width="1" height="30" fill="#c0c0c0"/>
<rect x="638" y="497" width="1" height="34" fill="#c0c0c0"/>
<rect x="646" y="497" width="1" height="36" fill="#c0c0c0"/>
<rect x="654" y="497" width="1" height="36" fill="#c0c0c0"/>
<rect x="662" y="497" width="1" height="35" fill="#c0c0c0"/>
<rect x="670" y="497" width="1" height="36" fill="#c0c0c0"/>
<rect x="678" y="497" width="1" height="30" fill="#c0c0c0"/>
<rect x="686" y="497" width="1" height="28" fill="#c0c0c0"/>
<rect x="694" y="497" width="1" height="27" fill="#c0c0c0"/>
<rect x="702" y="497" width="1" height="22" fill="#c0c0c0"/>
<rect x="710" y="497" width="1" height="18" fill="#c0c0c0"/>
<rect x="718" y="497" width="1" height="16" fill="#c0c0c0"/>
<rect x="726" y="497" width="1" height="16" fill="#c0c0c0"/>
<rect x="734" y="497" width="1" height="18" fill="#c0c0c0"/>
<rect x="742" y="497" width="1" height="20" fill="#c0c0c0"/>
<rect x="750" y="497" width="1" height="22" fill="#c0c0c0"/>
<rect x="758" y="497" width="1" height="23" fill="#c0c0c0"/>
<rect x="766" y="497" width="1" height="27" fill="#c0c0c0"/>
<rect x="774" y="497" width="1" height="32" fill="#c0c0c0"/>
<rect x="782" y="497" width="1" height="36" fill="#c0c0c0"/>
<rect x="790" y="497" width="1" height="42" fill="#c0c0c0"/>
<rect x="798" y="497" width="1" height="44" fill="#c0c0c0"/>
<rect x="806" y="497" width="1" height="44" fill="#c0c0c0"/>
<rect x="814" y="497" width="1" height="39" fill="#c0c0c0"/>
<rect x="822" y="497" width="1" height="42" fill="#c0c0c0"/>
<rect x="830" y="497" width="1" height="40" fill="#c0c0c0"/>
<rect x="838" y="497" width="1" height="39" fill="#c0c0c0"/>
<rect x="846" y="497" width="1" height="37" fill="#c0c0c0"/>
<rect x="854" y="497" width="1" height="37" fill="#c0c0c0"/>
<rect x="862" y="497" width="1" height="34" fill="#c0c0c0"/>
<rect x="870" y="497" width="1" height="29" fill="#c0c0c0"/>
<rect x="878" y="497" width="1" height="25" fill="#c0c0c0"/>
<rect x="886" y="497" width="1" height="21" fill="#c0c0c0"/>
<rect x="894" y="497" width="1" height="18" fill="#c0c0c0"/>
<rect x="902" y="497" width="1" height="16" fill="#c0c0c0"/>
<rect x="910" y="497" width="1" height="17" fill="#c0c0c0"/>
<rect x="918" y="497" width="1" height="20" fill="#c0c0c0"/>
<rect x="926" y="497" width="1" height="23" fill="#c0c0c0"/>
<rect x="934" y="497" width="1" height="28" fill="#c0c0c0"/>
<rect x="942" y="497" width="1" height="31" fill="#c0c0c0"/>
<rect x="950" y="497" width="1" height="33" fill="#c0c0c0"/>
<rect x="958" y="497" width="1" height="33" fill="#c0c0c0"/>
<rect x="966" y="497" width="1" height="32" fill="#c0c0c0"/>
<rect x="974" y="497" width="1" height="30" fill="#c0c0c0"/>
<rect x="982" y="497" width="1" height="26" fill="#c0c0c0"/>
<rect x="990" y="497" width="1" height="22" fill="#c0c0c0"/>
<rect x="998" y="497" width="1" height="21" fill="#c0c0c0"/>
<rect x="1006" y="497" width="1" height="20" fill="#c0c0c0"/>
<rect x="1014" y="497" width="1" height="13" fill="#c0c0c0"/>
<rect x="1022" y="497" width="1" height="5" fill="#c0c0c0"/>
<rect x="1030" y="497" width="1" height="1" fill="#c0c0c0"/>
<rect x="1038" y="495" width="1" height="3" fill="#c0c0c0"/>
<rect x="1046" y="492" width="1" height="6" fill="#c0c0c0"/>
<rect x="1054" y="487" width="1" height="11" fill="#c0c0c0"/>
<rect x="1062" y="483" width="1" height="15" fill="#c0c0c0"/>
<rect x="1070" y="482" width="1" height="16" fill="#c0c0c0"/>
<rect x="1078" y="480" width="1" height="18" fill="#c0c0c0"/>
<rect x="1086" y="478" width="1" height="20" fill="#c0c0c0"/>
<rect x="1094" y="475" width="1" height="23" fill="#c0c0c0"/>
<rect x="1102" y="472" width="1" height="26" fill="#c0c0c0"/>
<rect x="1110" y="475" width="1" height="23" fill="#c0c0c0"/>
<rect x="1118" y="485" width="1" height="13" fill="#c0c0c0"/>
<rect x="1126" y="494" width="1" height="4" fill="#c0c0c0"/>
<rect x="1134" y="497" width="1" height="4" fill="#c0c0c0"/>
<rect x="1142" y="497" width="1" height="9" fill="#c0c0c0"/>
<rect x="1150" y="497" width="1" height="13" fill="#c0c0c0"/>
<rect x="1158" y="497" width="1" height="24" fill="#c0c0c0"/>
<rect x="1166" y="497" width="1" height="38" fill="#c0c0c0"/>
<line x1="6" y1="440.4" x2="9" y2="439.3" stroke="#ff0000" stroke-width="1"/>
<line x1="12" y1="438.1" x2="17" y2="436.7" stroke="#ff0000" stroke-width="1"/>
<line x1="20" y1="436.0" x2="25" y2="435.1" stroke="#ff0000" stroke-width="1"/>
<line x1="28" y1="434.8" x2="33" y2="433.9" stroke="#ff0000" stroke-width="1"/>
<line x1="36" y1="433.2" x2="41" y2="432.1" stroke="#ff0000" stroke-width="1"/>
<line x1="44" y1="431.5" x2="49" y2="430.6" stroke="#ff0000" stroke-width="1"/>
<line x1="52" y1="430.2" x2="57" y2="429.7" stroke="#ff0000" stroke-width="1"/>
<line x1="60" y1="429.5" x2="65" y2="429.4" stroke="#ff0000" stroke-width="1"/>
<line x1="68" y1="429.4" x2="73" y2="429.6" stroke="#ff0000" stroke-width="1"/>
<line x1="76" y1="429.9" x2="81" y2="430.4" stroke="#ff0000" stroke-width="1"/>
<line x1="84" y1="430.7" x2="89" y2="431.3" stroke="#ff0000" stroke-width="1"/>
<line x1="92" y1="431.8" x2="97" y2="432.5" stroke="#ff0000" stroke-width="1"/>
<line x1="100" y1="432.9" x2="105" y2="433.3" stroke="#ff0000" stroke-width="1"/>
<line x1="108" y1="433.6" x2="113" y2="433.9" stroke="#ff0000" stroke-width="1"/>
<line x1="116" y1="434.1" x2="121" y2="434.5" stroke="#ff0000" stroke-width="1"/>
<line x1="124" y1="434.7" x2="129" y2="435.1" stroke="#ff0000" stroke-width="1"/>
<line x1="132" y1="435.4" x2="137" y2="435.9" stroke="#ff0000" stroke-width="1"/>
<line x1="140" y1="436.2" x2="145" y2="436.7" stroke="#ff0000" stroke-width="1"/>
<line x1="148" y1="437.0" x2="153" y2="438.1" stroke="#ff0000" stroke-width="1"/>
<line x1="156" y1="439.0" x2="161" y2="440.6" stroke="#ff0000" stroke-width="1"/>
<line x1="164" y1="441.5" x2="169" y2="443.6" stroke="#ff0000" stroke-width="1"/>
<line x1="172" y1="444.8" x2="177" y2="447.0" stroke="#ff0000" stroke-width="1"/>
<line x1="180" y1="448.2" x2="185" y2="450.3" stroke="#ff0000" stroke-width="1"/>
<line x1="188" y1="451.5" x2="193" y2="453.5" stroke="#ff0000" stroke-width="1"/>
<line x1="196" y1="454.7" x2="201" y2="456.7" stroke="#ff0000" stroke-width="1"/>
<line x1="204" y1="457.9" x2="209" y2="459.2" stroke="#ff0000" stroke-width="1"/>
<line x1="212" y1="459.8" x2="217" y2="460.8" stroke="#ff0000" stroke-width="1"/>
<line x1="220" y1="461.0" x2="225" y2="461.3" stroke="#ff0000" stroke-width="1"/>
<line x1="228" y1="461.4" x2="233" y2="461.7" stroke="#ff0000" stroke-width="1"/>
<line x1="236" y1="461.8" x2="241" y2="462.1" stroke="#ff0000" stroke-width="1"/>
<line x1="244" y1="462.0" x2="249" y2="461.6" stroke="#ff0000" stroke-width="1"/>
<line x1="252" y1="461.5" x2="257" y2="461.2" stroke="#ff0000" stroke-width="1"/>
<line x1="260" y1="461.0" x2="265" y2="460.7" stroke="#ff0000" stroke-width="1"/>
<line x1="268" y1="460.6" x2="273" y2="460.5" stroke="#ff0000" stroke-width="1"/>
<line x1="276" y1="460.5" x2="281" y2="460.5" stroke="#ff0000" stroke-width="1"/>
<line x1="284" y1="460.5" x2="289" y2="460.4" stroke="#ff0000" stroke-width="1"/>
<line x1="292" y1="460.4" x2="297" y2="460.4" stroke="#ff0000" stroke-width="1"/>
<line x1="300" y1="460.4" x2="305" y2="460.4" stroke="#ff0000" stroke-width="1"/>
<line x1="308" y1="460.4" x2="313" y2="460.0" stroke="#ff0000" stroke-width="1"/>
<line x1="316" y1="459.6" x2="321" y2="458.9" stroke="#ff0000" stroke-width="1"/>
<line x1="324" y1="458.5" x2="329" y2="457.7" stroke="#ff0000" stroke-width="1"/>
<line x1="332" y1="457.2" x2="337" y2="456.3" stroke="#ff0000" stroke-width="1"/>
<line x1="340" y1="455.8" x2="345" y2="454.7" stroke="#ff0000" stroke-width="1"/>
<line x1="348" y1="454.0" x2="353" y2="452.7" stroke="#ff0000" stroke-width="1"/>
<line x1="356" y1="451.9" x2="361" y2="450.8" stroke="#ff0000" stroke-width="1"/>
<line x1="364" y1="450.2" x2="369" y2="449.3" stroke="#ff0000" stroke-width="1"/>
<line x1="372" y1="448.7" x2="377" y2="447.7" stroke="#ff0000" stroke-width="1"/>
<line x1="380" y1="447.2" x2="385" y2="446.8" stroke="#ff0000" stroke-width="1"/>
<line x1="388" y1="446.7" x2="393" y2="446.7" stroke="#ff0000" stroke-width="1"/>
<line x1="396" y1="446.6" x2="401" y2="447.0" stroke="#ff0000" stroke-width="1"/>
<line x1="404" y1="447.3" x2="409" y2="447.9" stroke="#ff0000" stroke-width="1"/>
<line x1="412" y1="448.3" x2="417" y2="449.2" stroke="#ff0000" stroke-width="1"/>
<line x1="420" y1="449.9" x2="425" y2="451.0" stroke="#ff0000" stroke-width="1"/>
<line x1="428" y1="451.7" x2="433" y2="453.6" stroke="#ff0000" stroke-width="1"/>
<line x1="436" y1="455.0" x2="441" y2="457.5" stroke="#ff0000" stroke-width="1"/>
<line x1="444" y1="458.9" x2="449" y2="461.6" stroke="#ff0000" stroke-width="1"/>
<line x1="452" y1="463.4" x2="457" y2="466.2" stroke="#ff0000" stroke-width="1"/>
<line x1="460" y1="468.0" x2="465" y2="470.9" stroke="#ff0000" stroke-width="1"/>
<line x1="468" y1="472.7" x2="473" y2="475.7" stroke="#ff0000" stroke-width="1"/>
<line x1="476" y1="477.5" x2="481" y2="480.5" stroke="#ff0000" stroke-width="1"/>
<line x1="484" y1="482.3" x2="489" y2="485.2" stroke="#ff0000" stroke-width="1"/>
<line x1="492" y1="487.0" x2="497" y2="489.8" stroke="#ff0000" stroke-width="1"/>
<line x1="500" y1="491.5" x2="505" y2="494.2" stroke="#ff0000" stroke-width="1"/>
<line x1="508" y1="495.8" x2="513" y2="497.8" stroke="#ff0000" stroke-width="1"/>
<line x1="516" y1="498.6" x2="521" y2="500.1" stroke="#ff0000" stroke-width="1"/>
<line x1="524" y1="500.9" x2="529" y2="501.6" stroke="#ff0000" stroke-width="1"/>
<line x1="532" y1="501.8" x2="537" y2="502.0" stroke="#ff0000" stroke-width="1"/>
<line x1="540" y1="502.1" x2="545" y2="502.0" stroke="#ff0000" stroke-width="1"/>
<line x1="548" y1="501.8" x2="553" y2="501.4" stroke="#ff0000" stroke-width="1"/>
<line x1="556" y1="501.1" x2="561" y2="500.6" stroke="#ff0000" stroke-width="1"/>
<line x1="564" y1="500.1" x2="569" y2="499.4" stroke="#ff0000" stroke-width="1"/>
<line x1="572" y1="498.9" x2="577" y2="498.4" stroke="#ff0000" stroke-width="1"/>
<line x1="580" y1="498.1" x2="585" y2="497.8" stroke="#ff0000" stroke-width="1"/>
<line x1="588" y1="497.5" x2="593" y2="497.8" stroke="#ff0000" stroke-width="1"/>
<line x1="596" y1="498.1" x2="601" y2="498.7" stroke="#ff0000" stroke-width="1"/>
<line x1="604" y1="499.1" x2="609" y2="500.2" stroke="#ff0000" stroke-width="1"/>
<line x1="612" y1="501.1" x2="617" y2="502.6" stroke="#ff0000" stroke-width="1"/>
<line x1="620" y1="503.5" x2="625" y2="505.6" stroke="#ff0000" stroke-width="1"/>
<line x1="628" y1="507.0" x2="633" y2="509.5" stroke="#ff0000" stroke-width="1"/>
<line x1="636" y1="510.9" x2="641" y2="513.3" stroke="#ff0000" stroke-width="1"/>
<line x1="644" y1="514.8" x2="649" y2="517.2" stroke="#ff0000" stroke-width="1"/>
<line x1="652" y1="518.6" x2="657" y2="520.8" stroke="#ff0000" stroke-width="1"/>
<line x1="660" y1="522.0" x2="665" y2="523.9" stroke="#ff0000" stroke-width="1"/>
<line x1="668" y1="525.1" x2="673" y2="526.5" stroke="#ff0000" stroke-width="1"/>
<line x1="676" y1="527.2" x2="681" y2="528.2" stroke="#ff0000" stroke-width="1"/>
<line x1="684" y1="528.9" x2="689" y2="529.1" stroke="#ff0000" stroke-width="1"/>
<line x1="692" y1="528.9" x2="697" y2="528.6" stroke="#ff0000" stroke-width="1"/>
<line x1="700" y1="528.4" x2="705" y2="527.4" stroke="#ff0000" stroke-width="1"/>
<line x1="708" y1="526.5" x2="713" y2="525.0" stroke="#ff0000" stroke-width="1"/>
<line x1="716" y1="524.1" x2="721" y2="522.8" stroke="#ff0000" stroke-width="1"/>
<line x1="724" y1="522.1" x2="729" y2="521.0" stroke="#ff0000" stroke-width="1"/>
<line x1="732" y1="520.3" x2="737" y2="519.3" stroke="#ff0000" stroke-width="1"/>
<line x1="740" y1="518.9" x2="745" y2="518.1" stroke="#ff0000" stroke-width="1"/>
<line x1="748" y1="517.7" x2="753" y2="517.3" stroke="#ff0000" stroke-width="1"/>
<line x1="756" y1="517.1" x2="761" y2="516.9" stroke="#ff0000" stroke-width="1"/>
<line x1="764" y1="516.8" x2="769" y2="517.2" stroke="#ff0000" stroke-width="1"/>
<line x1="772" y1="517.6" x2="777" y2="518.4" stroke="#ff0000" stroke-width="1"/>
<line x1="780" y1="518.8" x2="785" y2="520.2" stroke="#ff0000" stroke-width="1"/>
<line x1="788" y1="521.4" x2="793" y2="523.2" stroke="#ff0000" stroke-width="1"/>
<line x1="796" y1="524.4" x2="801" y2="526.1" stroke="#ff0000" stroke-width="1"/>
<line x1="804" y1="527.1" x2="809" y2="528.8" stroke="#ff0000" stroke-width="1"/>
<line x1="812" y1="529.8" x2="817" y2="531.4" stroke="#ff0000" stroke-width="1"/>
<line x1="820" y1="532.4" x2="825" y2="533.9" stroke="#ff0000" stroke-width="1"/>
<line x1="828" y1="534.9" x2="833" y2="535.8" stroke="#ff0000" stroke-width="1"/>
<line x1="836" y1="536.1" x2="841" y2="536.7" stroke="#ff0000" stroke-width="1"/>
<line x1="844" y1="537.0" x2="849" y2="537.0" stroke="#ff0000" stroke-width="1"/>
<line x1="852" y1="536.8" x2="857" y2="536.4" stroke="#ff0000" stroke-width="1"/>
<line x1="860" y1="536.1" x2="865" y2="535.3" stroke="#ff0000" stroke-width="1"/>
<line x1="868" y1="534.6" x2="873" y2="533.5" stroke="#ff0000" stroke-width="1"/>
<line x1="876" y1="532.9" x2="881" y2="531.5" stroke="#ff0000" stroke-width="1"/>
<line x1="884" y1="530.6" x2="889" y2="529.1" stroke="#ff0000" stroke-width="1"/>
<line x1="892" y1="528.2" x2="897" y2="526.6" stroke="#ff0000" stroke-width="1"/>
<line x1="900" y1="525.7" x2="905" y2="524.1" stroke="#ff0000" stroke-width="1"/>
<line x1="908" y1="523.1" x2="913" y2="521.5" stroke="#ff0000" stroke-width="1"/>
<line x1="916" y1="520.5" x2="921" y2="519.5" stroke="#ff0000" stroke-width="1"/>
<line x1="924" y1="519.3" x2="929" y2="518.8" stroke="#ff0000" stroke-width="1"/>
<line x1="932" y1="518.6" x2="937" y2="518.5" stroke="#ff0000" stroke-width="1"/>
<line x1="940" y1="518.7" x2="945" y2="518.9" stroke="#ff0000" stroke-width="1"/>
<line x1="948" y1="519.0" x2="953" y2="519.6" stroke="#ff0000" stroke-width="1"/>
<line x1="956" y1="520.2" x2="961" y2="521.1" stroke="#ff0000" stroke-width="1"/>
<line x1="964" y1="521.6" x2="969" y2="522.5" stroke="#ff0000" stroke-width="1"/>
<line x1="972" y1="522.9" x2="977" y2="523.6" stroke="#ff0000" stroke-width="1"/>
<line x1="980" y1="524.1" x2="985" y2="524.3" stroke="#ff0000" stroke-width="1"/>
<line x1="988" y1="524.2" x2="993" y2="524.1" stroke="#ff0000" stroke-width="1"/>
<line x1="996" y1="524.0" x2="1001" y2="523.4" stroke="#ff0000" stroke-width="1"/>
<line x1="1004" y1="522.8" x2="1009" y2="521.9" stroke="#ff0000" stroke-width="1"/>
<line x1="1012" y1="521.4" x2="1017" y2="520.0" stroke="#ff0000" stroke-width="1"/>
<line x1="1020" y1="518.9" x2="1025" y2="517.2" stroke="#ff0000" stroke-width="1"/>
<line x1="1028" y1="516.2" x2="1033" y2="513.9" stroke="#ff0000" stroke-width="1"/>
<line x1="1036" y1="512.3" x2="1041" y2="509.7" stroke="#ff0000" stroke-width="1"/>
<line x1="1044" y1="508.1" x2="1049" y2="505.4" stroke="#ff0000" stroke-width="1"/>
<line x1="1052" y1="503.9" x2="1057" y2="501.2" stroke="#ff0000" stroke-width="1"/>
<line x1="1060" y1="499.7" x2="1065" y2="497.2" stroke="#ff0000" stroke-width="1"/>
<line x1="1068" y1="495.9" x2="1073" y2="493.6" stroke="#ff0000" stroke-width="1"/>
<line x1="1076" y1="492.2" x2="1081" y2="490.2" stroke="#ff0000" stroke-width="1"/>
<line x1="1084" y1="489.1" x2="1089" y2="487.2" stroke="#ff0000" stroke-width="1"/>
<line x1="1092" y1="486.1" x2="1097" y2="484.4" stroke="#ff0000" stroke-width="1"/>
<line x1="1100" y1="483.5" x2="1105" y2="481.9" stroke="#ff0000" stroke-width="1"/>
<line x1="1108" y1="481.0" x2="1113" y2="480.3" stroke="#ff0000" stroke-width="1"/>
<line x1="1116" y1="480.2" x2="1121" y2="480.1" stroke="#ff0000" stroke-width="1"/>
<line x1="1124" y1="480.1" x2="1129" y2="480.8" stroke="#ff0000" stroke-width="1"/>
<line x1="1132" y1="481.5" x2="1137" y2="482.8" stroke="#ff0000" stroke-width="1"/>
<line x1="1140" y1="483.6" x2="1145" y2="485.6" stroke="#ff0000" stroke-width="1"/>
<line x1="1148" y1="487.1" x2="1153" y2="489.5" stroke="#ff0000" stroke-width="1"/>
<line x1="1156" y1="491.0" x2="1161" y2="494.2" stroke="#ff0000" stroke-width="1"/>
<line x1="1164" y1="496.4" x2="1169" y2="497.8" stroke="#ff0000" stroke-width="1"/>
</g>
<text transform="translate(1191,430) scale(0.9,1)" fill="#000" stroke="#000" stroke-width="0.25" font-size="10" text-anchor="start" class="t" >52.889</text>
<text transform="translate(1191,501) scale(0.9,1)" fill="#000" stroke="#000" stroke-width="0.25" font-size="10" text-anchor="start" class="t" >0.00</text>
<text transform="translate(1191,544) scale(0.9,1)" fill="#000" stroke="#000" stroke-width="0.25" font-size="10" text-anchor="start" class="t" >-34.2569</text>
<rect x="1189" y="497" width="2" height="1" fill="#000"/>
<rect x="1189" y="421" width="2" height="1" fill="#000"/>
<rect x="1189" y="546" width="2" height="1" fill="#000"/>
<rect x="1189" y="551" width="2" height="1" fill="#000"/>
<rect x="1189" y="670" width="1" height="1" fill="#000"/>
<g clip-path="url(#cr)">
<rect x="7" y="586" width="3" height="1" fill="#c0c0c0"/>
<rect x="13" y="586" width="3" height="1" fill="#c0c0c0"/>
<rect x="19" y="586" width="3" height="1" fill="#c0c0c0"/>
<rect x="25" y="586" width="3" height="1" fill="#c0c0c0"/>
<rect x="31" y="586" width="3" height="1" fill="#c0c0c0"/>
<rect x="37" y="586" width="3" height="1" fill="#c0c0c0"/>
<rect x="43" y="586" width="3" height="1" fill="#c0c0c0"/>
<rect x="49" y="586" width="3" height="1" fill="#c0c0c0"/>
<rect x="55" y="586" width="3" height="1" fill="#c0c0c0"/>
<rect x="61" y="586" width="3" height="1" fill="#c0c0c0"/>
<rect x="67" y="586" width="3" height="1" fill="#c0c0c0"/>
<rect x="73" y="586" width="3" height="1" fill="#c0c0c0"/>
<rect x="79" y="586" width="3" height="1" fill="#c0c0c0"/>
<rect x="85" y="586" width="3" height="1" fill="#c0c0c0"/>
<rect x="91" y="586" width="3" height="1" fill="#c0c0c0"/>
<rect x="97" y="586" width="3" height="1" fill="#c0c0c0"/>
<rect x="103" y="586" width="3" height="1" fill="#c0c0c0"/>
<rect x="109" y="586" width="3" height="1" fill="#c0c0c0"/>
<rect x="115" y="586" width="3" height="1" fill="#c0c0c0"/>
<rect x="121" y="586" width="3" height="1" fill="#c0c0c0"/>
<rect x="127" y="586" width="3" height="1" fill="#c0c0c0"/>
<rect x="133" y="586" width="3" height="1" fill="#c0c0c0"/>
<rect x="139" y="586" width="3" height="1" fill="#c0c0c0"/>
<rect x="145" y="586" width="3" height="1" fill="#c0c0c0"/>
<rect x="151" y="586" width="3" height="1" fill="#c0c0c0"/>
<rect x="157" y="586" width="3" height="1" fill="#c0c0c0"/>
<rect x="163" y="586" width="3" height="1" fill="#c0c0c0"/>
<rect x="169" y="586" width="3" height="1" fill="#c0c0c0"/>
<rect x="175" y="586" width="3" height="1" fill="#c0c0c0"/>
<rect x="181" y="586" width="3" height="1" fill="#c0c0c0"/>
<rect x="187" y="586" width="3" height="1" fill="#c0c0c0"/>
<rect x="193" y="586" width="3" height="1" fill="#c0c0c0"/>
<rect x="199" y="586" width="3" height="1" fill="#c0c0c0"/>
<rect x="205" y="586" width="3" height="1" fill="#c0c0c0"/>
<rect x="211" y="586" width="3" height="1" fill="#c0c0c0"/>
<rect x="217" y="586" width="3" height="1" fill="#c0c0c0"/>
<rect x="223" y="586" width="3" height="1" fill="#c0c0c0"/>
<rect x="229" y="586" width="3" height="1" fill="#c0c0c0"/>
<rect x="235" y="586" width="3" height="1" fill="#c0c0c0"/>
<rect x="241" y="586" width="3" height="1" fill="#c0c0c0"/>
<rect x="247" y="586" width="3" height="1" fill="#c0c0c0"/>
<rect x="253" y="586" width="3" height="1" fill="#c0c0c0"/>
<rect x="259" y="586" width="3" height="1" fill="#c0c0c0"/>
<rect x="265" y="586" width="3" height="1" fill="#c0c0c0"/>
<rect x="271" y="586" width="3" height="1" fill="#c0c0c0"/>
<rect x="277" y="586" width="3" height="1" fill="#c0c0c0"/>
<rect x="283" y="586" width="3" height="1" fill="#c0c0c0"/>
<rect x="289" y="586" width="3" height="1" fill="#c0c0c0"/>
<rect x="295" y="586" width="3" height="1" fill="#c0c0c0"/>
<rect x="301" y="586" width="3" height="1" fill="#c0c0c0"/>
<rect x="307" y="586" width="3" height="1" fill="#c0c0c0"/>
<rect x="313" y="586" width="3" height="1" fill="#c0c0c0"/>
<rect x="319" y="586" width="3" height="1" fill="#c0c0c0"/>
<rect x="325" y="586" width="3" height="1" fill="#c0c0c0"/>
<rect x="331" y="586" width="3" height="1" fill="#c0c0c0"/>
<rect x="337" y="586" width="3" height="1" fill="#c0c0c0"/>
<rect x="343" y="586" width="3" height="1" fill="#c0c0c0"/>
<rect x="349" y="586" width="3" height="1" fill="#c0c0c0"/>
<rect x="355" y="586" width="3" height="1" fill="#c0c0c0"/>
<rect x="361" y="586" width="3" height="1" fill="#c0c0c0"/>
<rect x="367" y="586" width="3" height="1" fill="#c0c0c0"/>
<rect x="373" y="586" width="3" height="1" fill="#c0c0c0"/>
<rect x="379" y="586" width="3" height="1" fill="#c0c0c0"/>
<rect x="385" y="586" width="3" height="1" fill="#c0c0c0"/>
<rect x="391" y="586" width="3" height="1" fill="#c0c0c0"/>
<rect x="397" y="586" width="3" height="1" fill="#c0c0c0"/>
<rect x="403" y="586" width="3" height="1" fill="#c0c0c0"/>
<rect x="409" y="586" width="3" height="1" fill="#c0c0c0"/>
<rect x="415" y="586" width="3" height="1" fill="#c0c0c0"/>
<rect x="421" y="586" width="3" height="1" fill="#c0c0c0"/>
<rect x="427" y="586" width="3" height="1" fill="#c0c0c0"/>
<rect x="433" y="586" width="3" height="1" fill="#c0c0c0"/>
<rect x="439" y="586" width="3" height="1" fill="#c0c0c0"/>
<rect x="445" y="586" width="3" height="1" fill="#c0c0c0"/>
<rect x="451" y="586" width="3" height="1" fill="#c0c0c0"/>
<rect x="457" y="586" width="3" height="1" fill="#c0c0c0"/>
<rect x="463" y="586" width="3" height="1" fill="#c0c0c0"/>
<rect x="469" y="586" width="3" height="1" fill="#c0c0c0"/>
<rect x="475" y="586" width="3" height="1" fill="#c0c0c0"/>
<rect x="481" y="586" width="3" height="1" fill="#c0c0c0"/>
<rect x="487" y="586" width="3" height="1" fill="#c0c0c0"/>
<rect x="493" y="586" width="3" height="1" fill="#c0c0c0"/>
<rect x="499" y="586" width="3" height="1" fill="#c0c0c0"/>
<rect x="505" y="586" width="3" height="1" fill="#c0c0c0"/>
<rect x="511" y="586" width="3" height="1" fill="#c0c0c0"/>
<rect x="517" y="586" width="3" height="1" fill="#c0c0c0"/>
<rect x="523" y="586" width="3" height="1" fill="#c0c0c0"/>
<rect x="529" y="586" width="3" height="1" fill="#c0c0c0"/>
<rect x="535" y="586" width="3" height="1" fill="#c0c0c0"/>
<rect x="541" y="586" width="3" height="1" fill="#c0c0c0"/>
<rect x="547" y="586" width="3" height="1" fill="#c0c0c0"/>
<rect x="553" y="586" width="3" height="1" fill="#c0c0c0"/>
<rect x="559" y="586" width="3" height="1" fill="#c0c0c0"/>
<rect x="565" y="586" width="3" height="1" fill="#c0c0c0"/>
<rect x="571" y="586" width="3" height="1" fill="#c0c0c0"/>
<rect x="577" y="586" width="3" height="1" fill="#c0c0c0"/>
<rect x="583" y="586" width="3" height="1" fill="#c0c0c0"/>
<rect x="589" y="586" width="3" height="1" fill="#c0c0c0"/>
<rect x="595" y="586" width="3" height="1" fill="#c0c0c0"/>
<rect x="601" y="586" width="3" height="1" fill="#c0c0c0"/>
<rect x="607" y="586" width="3" height="1" fill="#c0c0c0"/>
<rect x="613" y="586" width="3" height="1" fill="#c0c0c0"/>
<rect x="619" y="586" width="3" height="1" fill="#c0c0c0"/>
<rect x="625" y="586" width="3" height="1" fill="#c0c0c0"/>
<rect x="631" y="586" width="3" height="1" fill="#c0c0c0"/>
<rect x="637" y="586" width="3" height="1" fill="#c0c0c0"/>
<rect x="643" y="586" width="3" height="1" fill="#c0c0c0"/>
<rect x="649" y="586" width="3" height="1" fill="#c0c0c0"/>
<rect x="655" y="586" width="3" height="1" fill="#c0c0c0"/>
<rect x="661" y="586" width="3" height="1" fill="#c0c0c0"/>
<rect x="667" y="586" width="3" height="1" fill="#c0c0c0"/>
<rect x="673" y="586" width="3" height="1" fill="#c0c0c0"/>
<rect x="679" y="586" width="3" height="1" fill="#c0c0c0"/>
<rect x="685" y="586" width="3" height="1" fill="#c0c0c0"/>
<rect x="691" y="586" width="3" height="1" fill="#c0c0c0"/>
<rect x="697" y="586" width="3" height="1" fill="#c0c0c0"/>
<rect x="703" y="586" width="3" height="1" fill="#c0c0c0"/>
<rect x="709" y="586" width="3" height="1" fill="#c0c0c0"/>
<rect x="715" y="586" width="3" height="1" fill="#c0c0c0"/>
<rect x="721" y="586" width="3" height="1" fill="#c0c0c0"/>
<rect x="727" y="586" width="3" height="1" fill="#c0c0c0"/>
<rect x="733" y="586" width="3" height="1" fill="#c0c0c0"/>
<rect x="739" y="586" width="3" height="1" fill="#c0c0c0"/>
<rect x="745" y="586" width="3" height="1" fill="#c0c0c0"/>
<rect x="751" y="586" width="3" height="1" fill="#c0c0c0"/>
<rect x="757" y="586" width="3" height="1" fill="#c0c0c0"/>
<rect x="763" y="586" width="3" height="1" fill="#c0c0c0"/>
<rect x="769" y="586" width="3" height="1" fill="#c0c0c0"/>
<rect x="775" y="586" width="3" height="1" fill="#c0c0c0"/>
<rect x="781" y="586" width="3" height="1" fill="#c0c0c0"/>
<rect x="787" y="586" width="3" height="1" fill="#c0c0c0"/>
<rect x="793" y="586" width="3" height="1" fill="#c0c0c0"/>
<rect x="799" y="586" width="3" height="1" fill="#c0c0c0"/>
<rect x="805" y="586" width="3" height="1" fill="#c0c0c0"/>
<rect x="811" y="586" width="3" height="1" fill="#c0c0c0"/>
<rect x="817" y="586" width="3" height="1" fill="#c0c0c0"/>
<rect x="823" y="586" width="3" height="1" fill="#c0c0c0"/>
<rect x="829" y="586" width="3" height="1" fill="#c0c0c0"/>
<rect x="835" y="586" width="3" height="1" fill="#c0c0c0"/>
<rect x="841" y="586" width="3" height="1" fill="#c0c0c0"/>
<rect x="847" y="586" width="3" height="1" fill="#c0c0c0"/>
<rect x="853" y="586" width="3" height="1" fill="#c0c0c0"/>
<rect x="859" y="586" width="3" height="1" fill="#c0c0c0"/>
<rect x="865" y="586" width="3" height="1" fill="#c0c0c0"/>
<rect x="871" y="586" width="3" height="1" fill="#c0c0c0"/>
<rect x="877" y="586" width="3" height="1" fill="#c0c0c0"/>
<rect x="883" y="586" width="3" height="1" fill="#c0c0c0"/>
<rect x="889" y="586" width="3" height="1" fill="#c0c0c0"/>
<rect x="895" y="586" width="3" height="1" fill="#c0c0c0"/>
<rect x="901" y="586" width="3" height="1" fill="#c0c0c0"/>
<rect x="907" y="586" width="3" height="1" fill="#c0c0c0"/>
<rect x="913" y="586" width="3" height="1" fill="#c0c0c0"/>
<rect x="919" y="586" width="3" height="1" fill="#c0c0c0"/>
<rect x="925" y="586" width="3" height="1" fill="#c0c0c0"/>
<rect x="931" y="586" width="3" height="1" fill="#c0c0c0"/>
<rect x="937" y="586" width="3" height="1" fill="#c0c0c0"/>
<rect x="943" y="586" width="3" height="1" fill="#c0c0c0"/>
<rect x="949" y="586" width="3" height="1" fill="#c0c0c0"/>
<rect x="955" y="586" width="3" height="1" fill="#c0c0c0"/>
<rect x="961" y="586" width="3" height="1" fill="#c0c0c0"/>
<rect x="967" y="586" width="3" height="1" fill="#c0c0c0"/>
<rect x="973" y="586" width="3" height="1" fill="#c0c0c0"/>
<rect x="979" y="586" width="3" height="1" fill="#c0c0c0"/>
<rect x="985" y="586" width="3" height="1" fill="#c0c0c0"/>
<rect x="991" y="586" width="3" height="1" fill="#c0c0c0"/>
<rect x="997" y="586" width="3" height="1" fill="#c0c0c0"/>
<rect x="1003" y="586" width="3" height="1" fill="#c0c0c0"/>
<rect x="1009" y="586" width="3" height="1" fill="#c0c0c0"/>
<rect x="1015" y="586" width="3" height="1" fill="#c0c0c0"/>
<rect x="1021" y="586" width="3" height="1" fill="#c0c0c0"/>
<rect x="1027" y="586" width="3" height="1" fill="#c0c0c0"/>
<rect x="1033" y="586" width="3" height="1" fill="#c0c0c0"/>
<rect x="1039" y="586" width="3" height="1" fill="#c0c0c0"/>
<rect x="1045" y="586" width="3" height="1" fill="#c0c0c0"/>
<rect x="1051" y="586" width="3" height="1" fill="#c0c0c0"/>
<rect x="1057" y="586" width="3" height="1" fill="#c0c0c0"/>
<rect x="1063" y="586" width="3" height="1" fill="#c0c0c0"/>
<rect x="1069" y="586" width="3" height="1" fill="#c0c0c0"/>
<rect x="1075" y="586" width="3" height="1" fill="#c0c0c0"/>
<rect x="1081" y="586" width="3" height="1" fill="#c0c0c0"/>
<rect x="1087" y="586" width="3" height="1" fill="#c0c0c0"/>
<rect x="1093" y="586" width="3" height="1" fill="#c0c0c0"/>
<rect x="1099" y="586" width="3" height="1" fill="#c0c0c0"/>
<rect x="1105" y="586" width="3" height="1" fill="#c0c0c0"/>
<rect x="1111" y="586" width="3" height="1" fill="#c0c0c0"/>
<rect x="1117" y="586" width="3" height="1" fill="#c0c0c0"/>
<rect x="1123" y="586" width="3" height="1" fill="#c0c0c0"/>
<rect x="1129" y="586" width="3" height="1" fill="#c0c0c0"/>
<rect x="1135" y="586" width="3" height="1" fill="#c0c0c0"/>
<rect x="1141" y="586" width="3" height="1" fill="#c0c0c0"/>
<rect x="1147" y="586" width="3" height="1" fill="#c0c0c0"/>
<rect x="1153" y="586" width="3" height="1" fill="#c0c0c0"/>
<rect x="1159" y="586" width="3" height="1" fill="#c0c0c0"/>
<rect x="1165" y="586" width="3" height="1" fill="#c0c0c0"/>
<rect x="1171" y="586" width="3" height="1" fill="#c0c0c0"/>
<rect x="1177" y="586" width="3" height="1" fill="#c0c0c0"/>
<rect x="1183" y="586" width="3" height="1" fill="#c0c0c0"/>
<rect x="7" y="634" width="3" height="1" fill="#c0c0c0"/>
<rect x="13" y="634" width="3" height="1" fill="#c0c0c0"/>
<rect x="19" y="634" width="3" height="1" fill="#c0c0c0"/>
<rect x="25" y="634" width="3" height="1" fill="#c0c0c0"/>
<rect x="31" y="634" width="3" height="1" fill="#c0c0c0"/>
<rect x="37" y="634" width="3" height="1" fill="#c0c0c0"/>
<rect x="43" y="634" width="3" height="1" fill="#c0c0c0"/>
<rect x="49" y="634" width="3" height="1" fill="#c0c0c0"/>
<rect x="55" y="634" width="3" height="1" fill="#c0c0c0"/>
<rect x="61" y="634" width="3" height="1" fill="#c0c0c0"/>
<rect x="67" y="634" width="3" height="1" fill="#c0c0c0"/>
<rect x="73" y="634" width="3" height="1" fill="#c0c0c0"/>
<rect x="79" y="634" width="3" height="1" fill="#c0c0c0"/>
<rect x="85" y="634" width="3" height="1" fill="#c0c0c0"/>
<rect x="91" y="634" width="3" height="1" fill="#c0c0c0"/>
<rect x="97" y="634" width="3" height="1" fill="#c0c0c0"/>
<rect x="103" y="634" width="3" height="1" fill="#c0c0c0"/>
<rect x="109" y="634" width="3" height="1" fill="#c0c0c0"/>
<rect x="115" y="634" width="3" height="1" fill="#c0c0c0"/>
<rect x="121" y="634" width="3" height="1" fill="#c0c0c0"/>
<rect x="127" y="634" width="3" height="1" fill="#c0c0c0"/>
<rect x="133" y="634" width="3" height="1" fill="#c0c0c0"/>
<rect x="139" y="634" width="3" height="1" fill="#c0c0c0"/>
<rect x="145" y="634" width="3" height="1" fill="#c0c0c0"/>
<rect x="151" y="634" width="3" height="1" fill="#c0c0c0"/>
<rect x="157" y="634" width="3" height="1" fill="#c0c0c0"/>
<rect x="163" y="634" width="3" height="1" fill="#c0c0c0"/>
<rect x="169" y="634" width="3" height="1" fill="#c0c0c0"/>
<rect x="175" y="634" width="3" height="1" fill="#c0c0c0"/>
<rect x="181" y="634" width="3" height="1" fill="#c0c0c0"/>
<rect x="187" y="634" width="3" height="1" fill="#c0c0c0"/>
<rect x="193" y="634" width="3" height="1" fill="#c0c0c0"/>
<rect x="199" y="634" width="3" height="1" fill="#c0c0c0"/>
<rect x="205" y="634" width="3" height="1" fill="#c0c0c0"/>
<rect x="211" y="634" width="3" height="1" fill="#c0c0c0"/>
<rect x="217" y="634" width="3" height="1" fill="#c0c0c0"/>
<rect x="223" y="634" width="3" height="1" fill="#c0c0c0"/>
<rect x="229" y="634" width="3" height="1" fill="#c0c0c0"/>
<rect x="235" y="634" width="3" height="1" fill="#c0c0c0"/>
<rect x="241" y="634" width="3" height="1" fill="#c0c0c0"/>
<rect x="247" y="634" width="3" height="1" fill="#c0c0c0"/>
<rect x="253" y="634" width="3" height="1" fill="#c0c0c0"/>
<rect x="259" y="634" width="3" height="1" fill="#c0c0c0"/>
<rect x="265" y="634" width="3" height="1" fill="#c0c0c0"/>
<rect x="271" y="634" width="3" height="1" fill="#c0c0c0"/>
<rect x="277" y="634" width="3" height="1" fill="#c0c0c0"/>
<rect x="283" y="634" width="3" height="1" fill="#c0c0c0"/>
<rect x="289" y="634" width="3" height="1" fill="#c0c0c0"/>
<rect x="295" y="634" width="3" height="1" fill="#c0c0c0"/>
<rect x="301" y="634" width="3" height="1" fill="#c0c0c0"/>
<rect x="307" y="634" width="3" height="1" fill="#c0c0c0"/>
<rect x="313" y="634" width="3" height="1" fill="#c0c0c0"/>
<rect x="319" y="634" width="3" height="1" fill="#c0c0c0"/>
<rect x="325" y="634" width="3" height="1" fill="#c0c0c0"/>
<rect x="331" y="634" width="3" height="1" fill="#c0c0c0"/>
<rect x="337" y="634" width="3" height="1" fill="#c0c0c0"/>
<rect x="343" y="634" width="3" height="1" fill="#c0c0c0"/>
<rect x="349" y="634" width="3" height="1" fill="#c0c0c0"/>
<rect x="355" y="634" width="3" height="1" fill="#c0c0c0"/>
<rect x="361" y="634" width="3" height="1" fill="#c0c0c0"/>
<rect x="367" y="634" width="3" height="1" fill="#c0c0c0"/>
<rect x="373" y="634" width="3" height="1" fill="#c0c0c0"/>
<rect x="379" y="634" width="3" height="1" fill="#c0c0c0"/>
<rect x="385" y="634" width="3" height="1" fill="#c0c0c0"/>
<rect x="391" y="634" width="3" height="1" fill="#c0c0c0"/>
<rect x="397" y="634" width="3" height="1" fill="#c0c0c0"/>
<rect x="403" y="634" width="3" height="1" fill="#c0c0c0"/>
<rect x="409" y="634" width="3" height="1" fill="#c0c0c0"/>
<rect x="415" y="634" width="3" height="1" fill="#c0c0c0"/>
<rect x="421" y="634" width="3" height="1" fill="#c0c0c0"/>
<rect x="427" y="634" width="3" height="1" fill="#c0c0c0"/>
<rect x="433" y="634" width="3" height="1" fill="#c0c0c0"/>
<rect x="439" y="634" width="3" height="1" fill="#c0c0c0"/>
<rect x="445" y="634" width="3" height="1" fill="#c0c0c0"/>
<rect x="451" y="634" width="3" height="1" fill="#c0c0c0"/>
<rect x="457" y="634" width="3" height="1" fill="#c0c0c0"/>
<rect x="463" y="634" width="3" height="1" fill="#c0c0c0"/>
<rect x="469" y="634" width="3" height="1" fill="#c0c0c0"/>
<rect x="475" y="634" width="3" height="1" fill="#c0c0c0"/>
<rect x="481" y="634" width="3" height="1" fill="#c0c0c0"/>
<rect x="487" y="634" width="3" height="1" fill="#c0c0c0"/>
<rect x="493" y="634" width="3" height="1" fill="#c0c0c0"/>
<rect x="499" y="634" width="3" height="1" fill="#c0c0c0"/>
<rect x="505" y="634" width="3" height="1" fill="#c0c0c0"/>
<rect x="511" y="634" width="3" height="1" fill="#c0c0c0"/>
<rect x="517" y="634" width="3" height="1" fill="#c0c0c0"/>
<rect x="523" y="634" width="3" height="1" fill="#c0c0c0"/>
<rect x="529" y="634" width="3" height="1" fill="#c0c0c0"/>
<rect x="535" y="634" width="3" height="1" fill="#c0c0c0"/>
<rect x="541" y="634" width="3" height="1" fill="#c0c0c0"/>
<rect x="547" y="634" width="3" height="1" fill="#c0c0c0"/>
<rect x="553" y="634" width="3" height="1" fill="#c0c0c0"/>
<rect x="559" y="634" width="3" height="1" fill="#c0c0c0"/>
<rect x="565" y="634" width="3" height="1" fill="#c0c0c0"/>
<rect x="571" y="634" width="3" height="1" fill="#c0c0c0"/>
<rect x="577" y="634" width="3" height="1" fill="#c0c0c0"/>
<rect x="583" y="634" width="3" height="1" fill="#c0c0c0"/>
<rect x="589" y="634" width="3" height="1" fill="#c0c0c0"/>
<rect x="595" y="634" width="3" height="1" fill="#c0c0c0"/>
<rect x="601" y="634" width="3" height="1" fill="#c0c0c0"/>
<rect x="607" y="634" width="3" height="1" fill="#c0c0c0"/>
<rect x="613" y="634" width="3" height="1" fill="#c0c0c0"/>
<rect x="619" y="634" width="3" height="1" fill="#c0c0c0"/>
<rect x="625" y="634" width="3" height="1" fill="#c0c0c0"/>
<rect x="631" y="634" width="3" height="1" fill="#c0c0c0"/>
<rect x="637" y="634" width="3" height="1" fill="#c0c0c0"/>
<rect x="643" y="634" width="3" height="1" fill="#c0c0c0"/>
<rect x="649" y="634" width="3" height="1" fill="#c0c0c0"/>
<rect x="655" y="634" width="3" height="1" fill="#c0c0c0"/>
<rect x="661" y="634" width="3" height="1" fill="#c0c0c0"/>
<rect x="667" y="634" width="3" height="1" fill="#c0c0c0"/>
<rect x="673" y="634" width="3" height="1" fill="#c0c0c0"/>
<rect x="679" y="634" width="3" height="1" fill="#c0c0c0"/>
<rect x="685" y="634" width="3" height="1" fill="#c0c0c0"/>
<rect x="691" y="634" width="3" height="1" fill="#c0c0c0"/>
<rect x="697" y="634" width="3" height="1" fill="#c0c0c0"/>
<rect x="703" y="634" width="3" height="1" fill="#c0c0c0"/>
<rect x="709" y="634" width="3" height="1" fill="#c0c0c0"/>
<rect x="715" y="634" width="3" height="1" fill="#c0c0c0"/>
<rect x="721" y="634" width="3" height="1" fill="#c0c0c0"/>
<rect x="727" y="634" width="3" height="1" fill="#c0c0c0"/>
<rect x="733" y="634" width="3" height="1" fill="#c0c0c0"/>
<rect x="739" y="634" width="3" height="1" fill="#c0c0c0"/>
<rect x="745" y="634" width="3" height="1" fill="#c0c0c0"/>
<rect x="751" y="634" width="3" height="1" fill="#c0c0c0"/>
<rect x="757" y="634" width="3" height="1" fill="#c0c0c0"/>
<rect x="763" y="634" width="3" height="1" fill="#c0c0c0"/>
<rect x="769" y="634" width="3" height="1" fill="#c0c0c0"/>
<rect x="775" y="634" width="3" height="1" fill="#c0c0c0"/>
<rect x="781" y="634" width="3" height="1" fill="#c0c0c0"/>
<rect x="787" y="634" width="3" height="1" fill="#c0c0c0"/>
<rect x="793" y="634" width="3" height="1" fill="#c0c0c0"/>
<rect x="799" y="634" width="3" height="1" fill="#c0c0c0"/>
<rect x="805" y="634" width="3" height="1" fill="#c0c0c0"/>
<rect x="811" y="634" width="3" height="1" fill="#c0c0c0"/>
<rect x="817" y="634" width="3" height="1" fill="#c0c0c0"/>
<rect x="823" y="634" width="3" height="1" fill="#c0c0c0"/>
<rect x="829" y="634" width="3" height="1" fill="#c0c0c0"/>
<rect x="835" y="634" width="3" height="1" fill="#c0c0c0"/>
<rect x="841" y="634" width="3" height="1" fill="#c0c0c0"/>
<rect x="847" y="634" width="3" height="1" fill="#c0c0c0"/>
<rect x="853" y="634" width="3" height="1" fill="#c0c0c0"/>
<rect x="859" y="634" width="3" height="1" fill="#c0c0c0"/>
<rect x="865" y="634" width="3" height="1" fill="#c0c0c0"/>
<rect x="871" y="634" width="3" height="1" fill="#c0c0c0"/>
<rect x="877" y="634" width="3" height="1" fill="#c0c0c0"/>
<rect x="883" y="634" width="3" height="1" fill="#c0c0c0"/>
<rect x="889" y="634" width="3" height="1" fill="#c0c0c0"/>
<rect x="895" y="634" width="3" height="1" fill="#c0c0c0"/>
<rect x="901" y="634" width="3" height="1" fill="#c0c0c0"/>
<rect x="907" y="634" width="3" height="1" fill="#c0c0c0"/>
<rect x="913" y="634" width="3" height="1" fill="#c0c0c0"/>
<rect x="919" y="634" width="3" height="1" fill="#c0c0c0"/>
<rect x="925" y="634" width="3" height="1" fill="#c0c0c0"/>
<rect x="931" y="634" width="3" height="1" fill="#c0c0c0"/>
<rect x="937" y="634" width="3" height="1" fill="#c0c0c0"/>
<rect x="943" y="634" width="3" height="1" fill="#c0c0c0"/>
<rect x="949" y="634" width="3" height="1" fill="#c0c0c0"/>
<rect x="955" y="634" width="3" height="1" fill="#c0c0c0"/>
<rect x="961" y="634" width="3" height="1" fill="#c0c0c0"/>
<rect x="967" y="634" width="3" height="1" fill="#c0c0c0"/>
<rect x="973" y="634" width="3" height="1" fill="#c0c0c0"/>
<rect x="979" y="634" width="3" height="1" fill="#c0c0c0"/>
<rect x="985" y="634" width="3" height="1" fill="#c0c0c0"/>
<rect x="991" y="634" width="3" height="1" fill="#c0c0c0"/>
<rect x="997" y="634" width="3" height="1" fill="#c0c0c0"/>
<rect x="1003" y="634" width="3" height="1" fill="#c0c0c0"/>
<rect x="1009" y="634" width="3" height="1" fill="#c0c0c0"/>
<rect x="1015" y="634" width="3" height="1" fill="#c0c0c0"/>
<rect x="1021" y="634" width="3" height="1" fill="#c0c0c0"/>
<rect x="1027" y="634" width="3" height="1" fill="#c0c0c0"/>
<rect x="1033" y="634" width="3" height="1" fill="#c0c0c0"/>
<rect x="1039" y="634" width="3" height="1" fill="#c0c0c0"/>
<rect x="1045" y="634" width="3" height="1" fill="#c0c0c0"/>
<rect x="1051" y="634" width="3" height="1" fill="#c0c0c0"/>
<rect x="1057" y="634" width="3" height="1" fill="#c0c0c0"/>
<rect x="1063" y="634" width="3" height="1" fill="#c0c0c0"/>
<rect x="1069" y="634" width="3" height="1" fill="#c0c0c0"/>
<rect x="1075" y="634" width="3" height="1" fill="#c0c0c0"/>
<rect x="1081" y="634" width="3" height="1" fill="#c0c0c0"/>
<rect x="1087" y="634" width="3" height="1" fill="#c0c0c0"/>
<rect x="1093" y="634" width="3" height="1" fill="#c0c0c0"/>
<rect x="1099" y="634" width="3" height="1" fill="#c0c0c0"/>
<rect x="1105" y="634" width="3" height="1" fill="#c0c0c0"/>
<rect x="1111" y="634" width="3" height="1" fill="#c0c0c0"/>
<rect x="1117" y="634" width="3" height="1" fill="#c0c0c0"/>
<rect x="1123" y="634" width="3" height="1" fill="#c0c0c0"/>
<rect x="1129" y="634" width="3" height="1" fill="#c0c0c0"/>
<rect x="1135" y="634" width="3" height="1" fill="#c0c0c0"/>
<rect x="1141" y="634" width="3" height="1" fill="#c0c0c0"/>
<rect x="1147" y="634" width="3" height="1" fill="#c0c0c0"/>
<rect x="1153" y="634" width="3" height="1" fill="#c0c0c0"/>
<rect x="1159" y="634" width="3" height="1" fill="#c0c0c0"/>
<rect x="1165" y="634" width="3" height="1" fill="#c0c0c0"/>
<rect x="1171" y="634" width="3" height="1" fill="#c0c0c0"/>
<rect x="1177" y="634" width="3" height="1" fill="#c0c0c0"/>
<rect x="1183" y="634" width="3" height="1" fill="#c0c0c0"/>
<polyline points="6.5,586.2 14.5,586.2 22.5,589.1 30.5,590.3 38.5,588.4 46.5,586.2 54.5,590.3 62.5,593.2 70.5,594.4 78.5,591.5 86.5,589.1 94.5,584.3 102.5,582.3 110.5,582.3 118.5,582.3 126.5,584.3 134.5,593.2 142.5,593.2 150.5,608.4 158.5,606.0 166.5,604.3 174.5,603.6 182.5,601.7 190.5,596.3 198.5,590.5 206.5,591.5 214.5,591.5 222.5,589.6 230.5,586.7 238.5,600.0 246.5,591.5 254.5,595.1 262.5,597.1 270.5,595.1 278.5,591.5 286.5,604.3 294.5,592.4 302.5,592.1 310.5,592.1 318.5,590.2 326.5,587.3 334.5,585.4 342.5,582.5 350.5,584.2 358.5,585.4 366.5,587.3 374.5,587.3 382.5,591.4 390.5,596.3 398.5,595.5 406.5,593.4 414.5,593.4 422.5,598.7 430.5,603.5 438.5,624.1 446.5,619.7 454.5,618.5 462.5,617.5 470.5,615.6 478.5,627.2 486.5,617.5 494.5,619.5 502.5,616.8 510.5,618.5 518.5,613.7 526.5,608.3 534.5,603.5 542.5,605.2 550.5,605.2 558.5,602.8 566.5,607.1 574.5,615.1 582.5,623.3 590.5,622.6 598.5,624.8 606.5,627.7 614.5,633.7 622.5,635.4 630.5,632.0 638.5,635.4 646.5,636.6 654.5,627.7 662.5,624.1 670.5,631.3 678.5,614.4 686.5,613.2 694.5,615.6 702.5,609.6 710.5,610.3 718.5,612.0 726.5,618.0 734.5,621.6 742.5,626.5 750.5,619.2 758.5,624.1 766.5,628.9 774.5,633.0 782.5,634.9 790.5,637.4 798.5,635.4 806.5,625.3 814.5,615.6 822.5,627.2 830.5,623.3 838.5,620.4 846.5,620.4 854.5,623.3 862.5,617.5 870.5,611.5 878.5,612.0 886.5,610.3 894.5,611.2 902.5,613.2 910.5,618.0 918.5,625.3 926.5,625.3 934.5,631.3 942.5,628.4 950.5,628.4 958.5,625.3 966.5,622.4 974.5,619.2 982.5,611.2 990.5,613.2 998.5,615.1 1006.5,618.0 1014.5,599.9 1022.5,597.5 1030.5,602.3 1038.5,602.3 1046.5,604.2 1054.5,594.3 1062.5,598.2 1070.5,602.3 1078.5,598.2 1086.5,598.2 1094.5,594.3 1102.5,592.6 1110.5,607.1 1118.5,623.3 1126.5,625.3 1134.5,626.5 1142.5,621.6 1150.5,622.8 1158.5,635.4 1166.5,639.3" fill="none" stroke="#1e90ff" stroke-width="1"/>
</g>
<text transform="translate(10,562) scale(0.9,1)" fill="#000" stroke="#000" stroke-width="0.25" font-size="10" text-anchor="start" class="t" style="letter-spacing:0.12px">RSI(14) 25.6617</text>
<text transform="translate(1191,560) scale(0.9,1)" fill="#000" stroke="#000" stroke-width="0.25" font-size="10" text-anchor="start" class="t" >100</text>
<text transform="translate(1191,590) scale(0.9,1)" fill="#000" stroke="#000" stroke-width="0.25" font-size="10" text-anchor="start" class="t" >70</text>
<text transform="translate(1191,638) scale(0.9,1)" fill="#000" stroke="#000" stroke-width="0.25" font-size="10" text-anchor="start" class="t" >30</text>
<text transform="translate(1191,668) scale(0.9,1)" fill="#000" stroke="#000" stroke-width="0.25" font-size="10" text-anchor="start" class="t" >0</text>
<rect x="6" y="672" width="1" height="3" fill="#000"/>
<text transform="translate(6,684) scale(0.9,1)" fill="#000" stroke="#000" stroke-width="0.25" font-size="10" text-anchor="start" class="t" >18 Mar 2022</text>
<rect x="70" y="672" width="1" height="3" fill="#000"/>
<text transform="translate(69,684) scale(0.9,1)" fill="#000" stroke="#000" stroke-width="0.25" font-size="10" text-anchor="start" class="t" >22 Mar 00:00</text>
<rect x="134" y="672" width="1" height="3" fill="#000"/>
<text transform="translate(133,684) scale(0.9,1)" fill="#000" stroke="#000" stroke-width="0.25" font-size="10" text-anchor="start" class="t" >23 Mar 08:00</text>
<rect x="198" y="672" width="1" height="3" fill="#000"/>
<text transform="translate(197,684) scale(0.9,1)" fill="#000" stroke="#000" stroke-width="0.25" font-size="10" text-anchor="start" class="t" >24 Mar 16:00</text>
<rect x="262" y="672" width="1" height="3" fill="#000"/>
<text transform="translate(261,684) scale(0.9,1)" fill="#000" stroke="#000" stroke-width="0.25" font-size="10" text-anchor="start" class="t" >28 Mar 00:00</text>
<rect x="326" y="672" width="1" height="3" fill="#000"/>
<text transform="translate(325,684) scale(0.9,1)" fill="#000" stroke="#000" stroke-width="0.25" font-size="10" text-anchor="start" class="t" >29 Mar 08:00</text>
<rect x="390" y="672" width="1" height="3" fill="#000"/>
<text transform="translate(389,684) scale(0.9,1)" fill="#000" stroke="#000" stroke-width="0.25" font-size="10" text-anchor="start" class="t" >30 Mar 16:00</text>
<rect x="454" y="672" width="1" height="3" fill="#000"/>
<text transform="translate(453,684) scale(0.9,1)" fill="#000" stroke="#000" stroke-width="0.25" font-size="10" text-anchor="start" class="t" >1 Apr 00:00</text>
<rect x="518" y="672" width="1" height="3" fill="#000"/>
<text transform="translate(517,684) scale(0.9,1)" fill="#000" stroke="#000" stroke-width="0.25" font-size="10" text-anchor="start" class="t" >4 Apr 08:00</text>
<rect x="582" y="672" width="1" height="3" fill="#000"/>
<text transform="translate(581,684) scale(0.9,1)" fill="#000" stroke="#000" stroke-width="0.25" font-size="10" text-anchor="start" class="t" >5 Apr 16:00</text>
<rect x="646" y="672" width="1" height="3" fill="#000"/>
<text transform="translate(645,684) scale(0.9,1)" fill="#000" stroke="#000" stroke-width="0.25" font-size="10" text-anchor="start" class="t" >7 Apr 00:00</text>
<rect x="710" y="672" width="1" height="3" fill="#000"/>
<text transform="translate(709,684) scale(0.9,1)" fill="#000" stroke="#000" stroke-width="0.25" font-size="10" text-anchor="start" class="t" >8 Apr 08:00</text>
<rect x="774" y="672" width="1" height="3" fill="#000"/>
<text transform="translate(773,684) scale(0.9,1)" fill="#000" stroke="#000" stroke-width="0.25" font-size="10" text-anchor="start" class="t" >11 Apr 16:00</text>
<rect x="838" y="672" width="1" height="3" fill="#000"/>
<text transform="translate(837,684) scale(0.9,1)" fill="#000" stroke="#000" stroke-width="0.25" font-size="10" text-anchor="start" class="t" >13 Apr 00:00</text>
<rect x="902" y="672" width="1" height="3" fill="#000"/>
<text transform="translate(901,684) scale(0.9,1)" fill="#000" stroke="#000" stroke-width="0.25" font-size="10" text-anchor="start" class="t" >14 Apr 08:00</text>
<rect x="966" y="672" width="1" height="3" fill="#000"/>
<text transform="translate(965,684) scale(0.9,1)" fill="#000" stroke="#000" stroke-width="0.25" font-size="10" text-anchor="start" class="t" >18 Apr 12:00</text>
<rect x="1030" y="672" width="1" height="3" fill="#000"/>
<text transform="translate(1029,684) scale(0.9,1)" fill="#000" stroke="#000" stroke-width="0.25" font-size="10" text-anchor="start" class="t" >19 Apr 20:00</text>
<rect x="1094" y="672" width="1" height="3" fill="#000"/>
<text transform="translate(1093,684) scale(0.9,1)" fill="#000" stroke="#000" stroke-width="0.25" font-size="10" text-anchor="start" class="t" >21 Apr 04:00</text>
<rect x="1158" y="672" width="1" height="3" fill="#000"/>
<text transform="translate(1157,684) scale(0.9,1)" fill="#000" stroke="#000" stroke-width="0.25" font-size="10" text-anchor="start" class="t" >22 Apr 12:00</text>
<text x="826.7" y="88.6" fill="#ff0000" font-size="34.2" style="font-family:'Noto Sans CJK SC',sans-serif" shape-rendering="auto">多空转折点</text>
<text x="1001" y="88.1" fill="#ff0000" font-size="37" letter-spacing="0.75" style="font-family:'Liberation Sans',sans-serif" shape-rendering="auto">4320</text>
</svg>
</body></html>
